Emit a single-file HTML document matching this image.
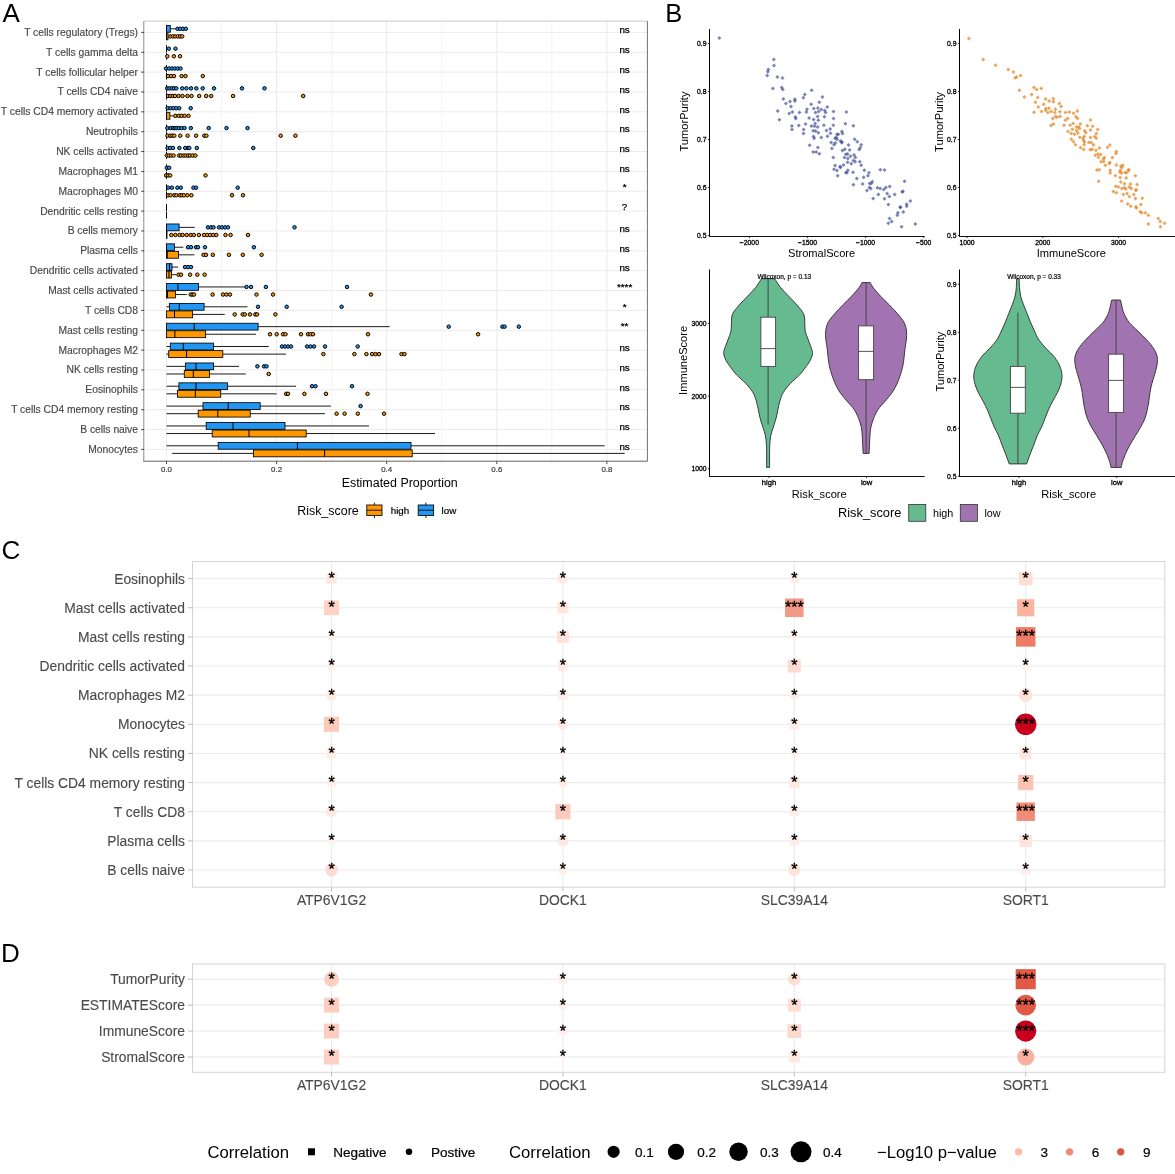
<!DOCTYPE html>
<html><head><meta charset="utf-8"><title>figure</title>
<style>
html,body{margin:0;padding:0;background:#fff;width:1175px;height:1174px;overflow:hidden;}
svg{display:block;will-change:transform;}
text{font-family:"Liberation Sans",sans-serif;}
</style></head><body>
<svg width="1175" height="1174" viewBox="0 0 1175 1174">
<rect x="0" y="0" width="1175" height="1174" fill="#fff"/>
<text x="2.40" y="22.00" font-size="26" fill="#000" text-anchor="start">A</text>
<text x="665.20" y="21.90" font-size="25.5" fill="#000" text-anchor="start">B</text>
<text x="1.60" y="558.90" font-size="26" fill="#000" text-anchor="start">C</text>
<text x="0.90" y="961.70" font-size="26" fill="#000" text-anchor="start">D</text>
<rect x="144.00" y="21.10" width="503.40" height="440.20" fill="#fff" stroke="none" stroke-width="1.0"/>
<line x1="221.55" y1="21.10" x2="221.55" y2="461.30" stroke="#F0F0F0" stroke-width="0.8"/>
<line x1="331.65" y1="21.10" x2="331.65" y2="461.30" stroke="#F0F0F0" stroke-width="0.8"/>
<line x1="441.75" y1="21.10" x2="441.75" y2="461.30" stroke="#F0F0F0" stroke-width="0.8"/>
<line x1="551.85" y1="21.10" x2="551.85" y2="461.30" stroke="#F0F0F0" stroke-width="0.8"/>
<line x1="166.50" y1="21.10" x2="166.50" y2="461.30" stroke="#EBEBEB" stroke-width="1.0"/>
<line x1="276.60" y1="21.10" x2="276.60" y2="461.30" stroke="#EBEBEB" stroke-width="1.0"/>
<line x1="386.70" y1="21.10" x2="386.70" y2="461.30" stroke="#EBEBEB" stroke-width="1.0"/>
<line x1="496.80" y1="21.10" x2="496.80" y2="461.30" stroke="#EBEBEB" stroke-width="1.0"/>
<line x1="606.90" y1="21.10" x2="606.90" y2="461.30" stroke="#EBEBEB" stroke-width="1.0"/>
<line x1="144.00" y1="32.40" x2="647.40" y2="32.40" stroke="#EBEBEB" stroke-width="1.0"/>
<line x1="144.00" y1="52.26" x2="647.40" y2="52.26" stroke="#EBEBEB" stroke-width="1.0"/>
<line x1="144.00" y1="72.11" x2="647.40" y2="72.11" stroke="#EBEBEB" stroke-width="1.0"/>
<line x1="144.00" y1="91.97" x2="647.40" y2="91.97" stroke="#EBEBEB" stroke-width="1.0"/>
<line x1="144.00" y1="111.83" x2="647.40" y2="111.83" stroke="#EBEBEB" stroke-width="1.0"/>
<line x1="144.00" y1="131.69" x2="647.40" y2="131.69" stroke="#EBEBEB" stroke-width="1.0"/>
<line x1="144.00" y1="151.54" x2="647.40" y2="151.54" stroke="#EBEBEB" stroke-width="1.0"/>
<line x1="144.00" y1="171.40" x2="647.40" y2="171.40" stroke="#EBEBEB" stroke-width="1.0"/>
<line x1="144.00" y1="191.26" x2="647.40" y2="191.26" stroke="#EBEBEB" stroke-width="1.0"/>
<line x1="144.00" y1="211.11" x2="647.40" y2="211.11" stroke="#EBEBEB" stroke-width="1.0"/>
<line x1="144.00" y1="230.97" x2="647.40" y2="230.97" stroke="#EBEBEB" stroke-width="1.0"/>
<line x1="144.00" y1="250.83" x2="647.40" y2="250.83" stroke="#EBEBEB" stroke-width="1.0"/>
<line x1="144.00" y1="270.68" x2="647.40" y2="270.68" stroke="#EBEBEB" stroke-width="1.0"/>
<line x1="144.00" y1="290.54" x2="647.40" y2="290.54" stroke="#EBEBEB" stroke-width="1.0"/>
<line x1="144.00" y1="310.40" x2="647.40" y2="310.40" stroke="#EBEBEB" stroke-width="1.0"/>
<line x1="144.00" y1="330.25" x2="647.40" y2="330.25" stroke="#EBEBEB" stroke-width="1.0"/>
<line x1="144.00" y1="350.11" x2="647.40" y2="350.11" stroke="#EBEBEB" stroke-width="1.0"/>
<line x1="144.00" y1="369.97" x2="647.40" y2="369.97" stroke="#EBEBEB" stroke-width="1.0"/>
<line x1="144.00" y1="389.83" x2="647.40" y2="389.83" stroke="#EBEBEB" stroke-width="1.0"/>
<line x1="144.00" y1="409.68" x2="647.40" y2="409.68" stroke="#EBEBEB" stroke-width="1.0"/>
<line x1="144.00" y1="429.54" x2="647.40" y2="429.54" stroke="#EBEBEB" stroke-width="1.0"/>
<line x1="144.00" y1="449.40" x2="647.40" y2="449.40" stroke="#EBEBEB" stroke-width="1.0"/>
<line x1="170.30" y1="28.80" x2="176.00" y2="28.80" stroke="#000" stroke-width="0.9"/>
<rect x="166.50" y="25.40" width="3.80" height="6.80" fill="#2196F3" stroke="#000" stroke-width="0.85"/>
<line x1="166.50" y1="25.40" x2="166.50" y2="32.20" stroke="#000" stroke-width="1.0"/>
<circle cx="177.50" cy="28.80" r="1.75" fill="#2196F3" stroke="#000" stroke-width="1.0"/>
<circle cx="180.20" cy="28.80" r="1.75" fill="#2196F3" stroke="#000" stroke-width="1.0"/>
<circle cx="183.00" cy="28.80" r="1.75" fill="#2196F3" stroke="#000" stroke-width="1.0"/>
<circle cx="185.80" cy="28.80" r="1.75" fill="#2196F3" stroke="#000" stroke-width="1.0"/>
<rect x="166.50" y="32.90" width="1.50" height="6.90" fill="#FF9800" stroke="#000" stroke-width="0.85"/>
<line x1="166.50" y1="32.90" x2="166.50" y2="39.80" stroke="#000" stroke-width="1.0"/>
<circle cx="170.30" cy="36.40" r="1.75" fill="#FF9800" stroke="#000" stroke-width="1.0"/>
<circle cx="172.80" cy="36.40" r="1.75" fill="#FF9800" stroke="#000" stroke-width="1.0"/>
<circle cx="175.30" cy="36.40" r="1.75" fill="#FF9800" stroke="#000" stroke-width="1.0"/>
<circle cx="177.80" cy="36.40" r="1.75" fill="#FF9800" stroke="#000" stroke-width="1.0"/>
<circle cx="180.20" cy="36.40" r="1.75" fill="#FF9800" stroke="#000" stroke-width="1.0"/>
<circle cx="182.20" cy="36.40" r="1.75" fill="#FF9800" stroke="#000" stroke-width="1.0"/>
<line x1="166.50" y1="45.26" x2="166.50" y2="52.06" stroke="#000" stroke-width="1.0"/>
<circle cx="168.80" cy="48.66" r="1.75" fill="#2196F3" stroke="#000" stroke-width="1.0"/>
<circle cx="175.50" cy="48.66" r="1.75" fill="#2196F3" stroke="#000" stroke-width="1.0"/>
<line x1="166.50" y1="52.76" x2="166.50" y2="59.66" stroke="#000" stroke-width="1.0"/>
<circle cx="167.30" cy="56.26" r="1.75" fill="#FF9800" stroke="#000" stroke-width="1.0"/>
<circle cx="173.90" cy="56.26" r="1.75" fill="#FF9800" stroke="#000" stroke-width="1.0"/>
<circle cx="180.00" cy="56.26" r="1.75" fill="#FF9800" stroke="#000" stroke-width="1.0"/>
<line x1="166.50" y1="65.11" x2="166.50" y2="71.91" stroke="#000" stroke-width="1.0"/>
<circle cx="166.00" cy="68.51" r="1.75" fill="#2196F3" stroke="#000" stroke-width="1.0"/>
<circle cx="168.90" cy="68.51" r="1.75" fill="#2196F3" stroke="#000" stroke-width="1.0"/>
<circle cx="171.80" cy="68.51" r="1.75" fill="#2196F3" stroke="#000" stroke-width="1.0"/>
<circle cx="174.70" cy="68.51" r="1.75" fill="#2196F3" stroke="#000" stroke-width="1.0"/>
<circle cx="177.60" cy="68.51" r="1.75" fill="#2196F3" stroke="#000" stroke-width="1.0"/>
<circle cx="180.50" cy="68.51" r="1.75" fill="#2196F3" stroke="#000" stroke-width="1.0"/>
<line x1="166.50" y1="72.61" x2="166.50" y2="79.51" stroke="#000" stroke-width="1.0"/>
<circle cx="168.00" cy="76.11" r="1.75" fill="#FF9800" stroke="#000" stroke-width="1.0"/>
<circle cx="171.00" cy="76.11" r="1.75" fill="#FF9800" stroke="#000" stroke-width="1.0"/>
<circle cx="174.00" cy="76.11" r="1.75" fill="#FF9800" stroke="#000" stroke-width="1.0"/>
<circle cx="181.60" cy="76.11" r="1.75" fill="#FF9800" stroke="#000" stroke-width="1.0"/>
<circle cx="185.50" cy="76.11" r="1.75" fill="#FF9800" stroke="#000" stroke-width="1.0"/>
<circle cx="202.80" cy="76.11" r="1.75" fill="#FF9800" stroke="#000" stroke-width="1.0"/>
<line x1="166.50" y1="84.97" x2="166.50" y2="91.77" stroke="#000" stroke-width="1.0"/>
<circle cx="167.20" cy="88.37" r="1.75" fill="#2196F3" stroke="#000" stroke-width="1.0"/>
<circle cx="169.40" cy="88.37" r="1.75" fill="#2196F3" stroke="#000" stroke-width="1.0"/>
<circle cx="171.70" cy="88.37" r="1.75" fill="#2196F3" stroke="#000" stroke-width="1.0"/>
<circle cx="174.00" cy="88.37" r="1.75" fill="#2196F3" stroke="#000" stroke-width="1.0"/>
<circle cx="176.30" cy="88.37" r="1.75" fill="#2196F3" stroke="#000" stroke-width="1.0"/>
<circle cx="182.20" cy="88.37" r="1.75" fill="#2196F3" stroke="#000" stroke-width="1.0"/>
<circle cx="186.40" cy="88.37" r="1.75" fill="#2196F3" stroke="#000" stroke-width="1.0"/>
<circle cx="191.00" cy="88.37" r="1.75" fill="#2196F3" stroke="#000" stroke-width="1.0"/>
<circle cx="196.30" cy="88.37" r="1.75" fill="#2196F3" stroke="#000" stroke-width="1.0"/>
<circle cx="202.70" cy="88.37" r="1.75" fill="#2196F3" stroke="#000" stroke-width="1.0"/>
<circle cx="214.00" cy="88.37" r="1.75" fill="#2196F3" stroke="#000" stroke-width="1.0"/>
<circle cx="242.00" cy="88.37" r="1.75" fill="#2196F3" stroke="#000" stroke-width="1.0"/>
<circle cx="264.50" cy="88.37" r="1.75" fill="#2196F3" stroke="#000" stroke-width="1.0"/>
<line x1="166.50" y1="92.47" x2="166.50" y2="99.37" stroke="#000" stroke-width="1.0"/>
<circle cx="168.00" cy="95.97" r="1.75" fill="#FF9800" stroke="#000" stroke-width="1.0"/>
<circle cx="170.20" cy="95.97" r="1.75" fill="#FF9800" stroke="#000" stroke-width="1.0"/>
<circle cx="172.80" cy="95.97" r="1.75" fill="#FF9800" stroke="#000" stroke-width="1.0"/>
<circle cx="175.00" cy="95.97" r="1.75" fill="#FF9800" stroke="#000" stroke-width="1.0"/>
<circle cx="178.60" cy="95.97" r="1.75" fill="#FF9800" stroke="#000" stroke-width="1.0"/>
<circle cx="182.50" cy="95.97" r="1.75" fill="#FF9800" stroke="#000" stroke-width="1.0"/>
<circle cx="187.40" cy="95.97" r="1.75" fill="#FF9800" stroke="#000" stroke-width="1.0"/>
<circle cx="191.50" cy="95.97" r="1.75" fill="#FF9800" stroke="#000" stroke-width="1.0"/>
<circle cx="199.20" cy="95.97" r="1.75" fill="#FF9800" stroke="#000" stroke-width="1.0"/>
<circle cx="206.20" cy="95.97" r="1.75" fill="#FF9800" stroke="#000" stroke-width="1.0"/>
<circle cx="211.20" cy="95.97" r="1.75" fill="#FF9800" stroke="#000" stroke-width="1.0"/>
<circle cx="233.10" cy="95.97" r="1.75" fill="#FF9800" stroke="#000" stroke-width="1.0"/>
<circle cx="303.20" cy="95.97" r="1.75" fill="#FF9800" stroke="#000" stroke-width="1.0"/>
<line x1="166.50" y1="104.83" x2="166.50" y2="111.63" stroke="#000" stroke-width="1.0"/>
<circle cx="167.60" cy="108.23" r="1.75" fill="#2196F3" stroke="#000" stroke-width="1.0"/>
<circle cx="170.40" cy="108.23" r="1.75" fill="#2196F3" stroke="#000" stroke-width="1.0"/>
<circle cx="173.30" cy="108.23" r="1.75" fill="#2196F3" stroke="#000" stroke-width="1.0"/>
<circle cx="176.20" cy="108.23" r="1.75" fill="#2196F3" stroke="#000" stroke-width="1.0"/>
<circle cx="179.20" cy="108.23" r="1.75" fill="#2196F3" stroke="#000" stroke-width="1.0"/>
<circle cx="190.70" cy="108.23" r="1.75" fill="#2196F3" stroke="#000" stroke-width="1.0"/>
<line x1="169.90" y1="115.83" x2="173.00" y2="115.83" stroke="#000" stroke-width="0.9"/>
<rect x="166.50" y="112.33" width="3.40" height="6.90" fill="#FF9800" stroke="#000" stroke-width="0.85"/>
<line x1="166.50" y1="112.33" x2="166.50" y2="119.23" stroke="#000" stroke-width="1.0"/>
<circle cx="175.30" cy="115.83" r="1.75" fill="#FF9800" stroke="#000" stroke-width="1.0"/>
<circle cx="178.80" cy="115.83" r="1.75" fill="#FF9800" stroke="#000" stroke-width="1.0"/>
<circle cx="181.60" cy="115.83" r="1.75" fill="#FF9800" stroke="#000" stroke-width="1.0"/>
<circle cx="184.60" cy="115.83" r="1.75" fill="#FF9800" stroke="#000" stroke-width="1.0"/>
<circle cx="188.50" cy="115.83" r="1.75" fill="#FF9800" stroke="#000" stroke-width="1.0"/>
<line x1="166.50" y1="124.69" x2="166.50" y2="131.49" stroke="#000" stroke-width="1.0"/>
<circle cx="167.40" cy="128.09" r="1.75" fill="#2196F3" stroke="#000" stroke-width="1.0"/>
<circle cx="170.60" cy="128.09" r="1.75" fill="#2196F3" stroke="#000" stroke-width="1.0"/>
<circle cx="173.00" cy="128.09" r="1.75" fill="#2196F3" stroke="#000" stroke-width="1.0"/>
<circle cx="174.70" cy="128.09" r="1.75" fill="#2196F3" stroke="#000" stroke-width="1.0"/>
<circle cx="176.40" cy="128.09" r="1.75" fill="#2196F3" stroke="#000" stroke-width="1.0"/>
<circle cx="178.70" cy="128.09" r="1.75" fill="#2196F3" stroke="#000" stroke-width="1.0"/>
<circle cx="181.50" cy="128.09" r="1.75" fill="#2196F3" stroke="#000" stroke-width="1.0"/>
<circle cx="184.50" cy="128.09" r="1.75" fill="#2196F3" stroke="#000" stroke-width="1.0"/>
<circle cx="190.80" cy="128.09" r="1.75" fill="#2196F3" stroke="#000" stroke-width="1.0"/>
<circle cx="208.70" cy="128.09" r="1.75" fill="#2196F3" stroke="#000" stroke-width="1.0"/>
<circle cx="226.50" cy="128.09" r="1.75" fill="#2196F3" stroke="#000" stroke-width="1.0"/>
<circle cx="247.50" cy="128.09" r="1.75" fill="#2196F3" stroke="#000" stroke-width="1.0"/>
<line x1="166.50" y1="132.19" x2="166.50" y2="139.09" stroke="#000" stroke-width="1.0"/>
<circle cx="167.50" cy="135.69" r="1.75" fill="#FF9800" stroke="#000" stroke-width="1.0"/>
<circle cx="170.20" cy="135.69" r="1.75" fill="#FF9800" stroke="#000" stroke-width="1.0"/>
<circle cx="172.30" cy="135.69" r="1.75" fill="#FF9800" stroke="#000" stroke-width="1.0"/>
<circle cx="174.30" cy="135.69" r="1.75" fill="#FF9800" stroke="#000" stroke-width="1.0"/>
<circle cx="180.30" cy="135.69" r="1.75" fill="#FF9800" stroke="#000" stroke-width="1.0"/>
<circle cx="187.60" cy="135.69" r="1.75" fill="#FF9800" stroke="#000" stroke-width="1.0"/>
<circle cx="196.10" cy="135.69" r="1.75" fill="#FF9800" stroke="#000" stroke-width="1.0"/>
<circle cx="204.30" cy="135.69" r="1.75" fill="#FF9800" stroke="#000" stroke-width="1.0"/>
<circle cx="206.40" cy="135.69" r="1.75" fill="#FF9800" stroke="#000" stroke-width="1.0"/>
<circle cx="280.70" cy="135.69" r="1.75" fill="#FF9800" stroke="#000" stroke-width="1.0"/>
<circle cx="295.40" cy="135.69" r="1.75" fill="#FF9800" stroke="#000" stroke-width="1.0"/>
<line x1="166.50" y1="144.54" x2="166.50" y2="151.34" stroke="#000" stroke-width="1.0"/>
<circle cx="167.50" cy="147.94" r="1.75" fill="#2196F3" stroke="#000" stroke-width="1.0"/>
<circle cx="170.20" cy="147.94" r="1.75" fill="#2196F3" stroke="#000" stroke-width="1.0"/>
<circle cx="173.00" cy="147.94" r="1.75" fill="#2196F3" stroke="#000" stroke-width="1.0"/>
<circle cx="179.40" cy="147.94" r="1.75" fill="#2196F3" stroke="#000" stroke-width="1.0"/>
<circle cx="185.20" cy="147.94" r="1.75" fill="#2196F3" stroke="#000" stroke-width="1.0"/>
<circle cx="188.00" cy="147.94" r="1.75" fill="#2196F3" stroke="#000" stroke-width="1.0"/>
<circle cx="189.30" cy="147.94" r="1.75" fill="#2196F3" stroke="#000" stroke-width="1.0"/>
<circle cx="196.80" cy="147.94" r="1.75" fill="#2196F3" stroke="#000" stroke-width="1.0"/>
<circle cx="253.30" cy="147.94" r="1.75" fill="#2196F3" stroke="#000" stroke-width="1.0"/>
<line x1="166.50" y1="152.04" x2="166.50" y2="158.94" stroke="#000" stroke-width="1.0"/>
<circle cx="166.80" cy="155.54" r="1.75" fill="#FF9800" stroke="#000" stroke-width="1.0"/>
<circle cx="168.90" cy="155.54" r="1.75" fill="#FF9800" stroke="#000" stroke-width="1.0"/>
<circle cx="171.20" cy="155.54" r="1.75" fill="#FF9800" stroke="#000" stroke-width="1.0"/>
<circle cx="173.60" cy="155.54" r="1.75" fill="#FF9800" stroke="#000" stroke-width="1.0"/>
<circle cx="179.10" cy="155.54" r="1.75" fill="#FF9800" stroke="#000" stroke-width="1.0"/>
<circle cx="181.10" cy="155.54" r="1.75" fill="#FF9800" stroke="#000" stroke-width="1.0"/>
<circle cx="183.50" cy="155.54" r="1.75" fill="#FF9800" stroke="#000" stroke-width="1.0"/>
<circle cx="185.60" cy="155.54" r="1.75" fill="#FF9800" stroke="#000" stroke-width="1.0"/>
<circle cx="188.00" cy="155.54" r="1.75" fill="#FF9800" stroke="#000" stroke-width="1.0"/>
<circle cx="190.00" cy="155.54" r="1.75" fill="#FF9800" stroke="#000" stroke-width="1.0"/>
<circle cx="192.70" cy="155.54" r="1.75" fill="#FF9800" stroke="#000" stroke-width="1.0"/>
<circle cx="195.40" cy="155.54" r="1.75" fill="#FF9800" stroke="#000" stroke-width="1.0"/>
<line x1="166.50" y1="164.40" x2="166.50" y2="171.20" stroke="#000" stroke-width="1.0"/>
<circle cx="166.80" cy="167.80" r="1.75" fill="#2196F3" stroke="#000" stroke-width="1.0"/>
<circle cx="169.20" cy="167.80" r="1.75" fill="#2196F3" stroke="#000" stroke-width="1.0"/>
<line x1="166.50" y1="171.90" x2="166.50" y2="178.80" stroke="#000" stroke-width="1.0"/>
<circle cx="166.10" cy="175.40" r="1.75" fill="#FF9800" stroke="#000" stroke-width="1.0"/>
<circle cx="168.20" cy="175.40" r="1.75" fill="#FF9800" stroke="#000" stroke-width="1.0"/>
<circle cx="170.20" cy="175.40" r="1.75" fill="#FF9800" stroke="#000" stroke-width="1.0"/>
<circle cx="205.50" cy="175.40" r="1.75" fill="#FF9800" stroke="#000" stroke-width="1.0"/>
<line x1="166.50" y1="184.26" x2="166.50" y2="191.06" stroke="#000" stroke-width="1.0"/>
<circle cx="168.20" cy="187.66" r="1.75" fill="#2196F3" stroke="#000" stroke-width="1.0"/>
<circle cx="171.90" cy="187.66" r="1.75" fill="#2196F3" stroke="#000" stroke-width="1.0"/>
<circle cx="177.40" cy="187.66" r="1.75" fill="#2196F3" stroke="#000" stroke-width="1.0"/>
<circle cx="180.80" cy="187.66" r="1.75" fill="#2196F3" stroke="#000" stroke-width="1.0"/>
<circle cx="193.40" cy="187.66" r="1.75" fill="#2196F3" stroke="#000" stroke-width="1.0"/>
<circle cx="196.10" cy="187.66" r="1.75" fill="#2196F3" stroke="#000" stroke-width="1.0"/>
<circle cx="237.70" cy="187.66" r="1.75" fill="#2196F3" stroke="#000" stroke-width="1.0"/>
<line x1="166.50" y1="191.76" x2="166.50" y2="198.66" stroke="#000" stroke-width="1.0"/>
<circle cx="168.20" cy="195.26" r="1.75" fill="#FF9800" stroke="#000" stroke-width="1.0"/>
<circle cx="170.60" cy="195.26" r="1.75" fill="#FF9800" stroke="#000" stroke-width="1.0"/>
<circle cx="174.30" cy="195.26" r="1.75" fill="#FF9800" stroke="#000" stroke-width="1.0"/>
<circle cx="176.40" cy="195.26" r="1.75" fill="#FF9800" stroke="#000" stroke-width="1.0"/>
<circle cx="179.80" cy="195.26" r="1.75" fill="#FF9800" stroke="#000" stroke-width="1.0"/>
<circle cx="181.80" cy="195.26" r="1.75" fill="#FF9800" stroke="#000" stroke-width="1.0"/>
<circle cx="183.90" cy="195.26" r="1.75" fill="#FF9800" stroke="#000" stroke-width="1.0"/>
<circle cx="187.30" cy="195.26" r="1.75" fill="#FF9800" stroke="#000" stroke-width="1.0"/>
<circle cx="191.40" cy="195.26" r="1.75" fill="#FF9800" stroke="#000" stroke-width="1.0"/>
<circle cx="232.00" cy="195.26" r="1.75" fill="#FF9800" stroke="#000" stroke-width="1.0"/>
<circle cx="243.00" cy="195.26" r="1.75" fill="#FF9800" stroke="#000" stroke-width="1.0"/>
<line x1="166.50" y1="204.11" x2="166.50" y2="210.91" stroke="#000" stroke-width="1.0"/>
<line x1="166.50" y1="211.61" x2="166.50" y2="218.51" stroke="#000" stroke-width="1.0"/>
<line x1="179.10" y1="227.37" x2="194.80" y2="227.37" stroke="#000" stroke-width="0.9"/>
<rect x="166.50" y="223.97" width="12.60" height="6.80" fill="#2196F3" stroke="#000" stroke-width="0.85"/>
<line x1="166.50" y1="223.97" x2="166.50" y2="230.77" stroke="#000" stroke-width="1.0"/>
<circle cx="208.00" cy="227.37" r="1.75" fill="#2196F3" stroke="#000" stroke-width="1.0"/>
<circle cx="211.00" cy="227.37" r="1.75" fill="#2196F3" stroke="#000" stroke-width="1.0"/>
<circle cx="213.50" cy="227.37" r="1.75" fill="#2196F3" stroke="#000" stroke-width="1.0"/>
<circle cx="219.00" cy="227.37" r="1.75" fill="#2196F3" stroke="#000" stroke-width="1.0"/>
<circle cx="222.00" cy="227.37" r="1.75" fill="#2196F3" stroke="#000" stroke-width="1.0"/>
<circle cx="225.00" cy="227.37" r="1.75" fill="#2196F3" stroke="#000" stroke-width="1.0"/>
<circle cx="228.00" cy="227.37" r="1.75" fill="#2196F3" stroke="#000" stroke-width="1.0"/>
<circle cx="294.50" cy="227.37" r="1.75" fill="#2196F3" stroke="#000" stroke-width="1.0"/>
<rect x="166.50" y="231.47" width="0.50" height="6.90" fill="#FF9800" stroke="#000" stroke-width="0.85"/>
<line x1="166.50" y1="231.47" x2="166.50" y2="238.37" stroke="#000" stroke-width="1.0"/>
<circle cx="171.30" cy="234.97" r="1.75" fill="#FF9800" stroke="#000" stroke-width="1.0"/>
<circle cx="175.40" cy="234.97" r="1.75" fill="#FF9800" stroke="#000" stroke-width="1.0"/>
<circle cx="179.50" cy="234.97" r="1.75" fill="#FF9800" stroke="#000" stroke-width="1.0"/>
<circle cx="182.60" cy="234.97" r="1.75" fill="#FF9800" stroke="#000" stroke-width="1.0"/>
<circle cx="186.70" cy="234.97" r="1.75" fill="#FF9800" stroke="#000" stroke-width="1.0"/>
<circle cx="190.70" cy="234.97" r="1.75" fill="#FF9800" stroke="#000" stroke-width="1.0"/>
<circle cx="193.80" cy="234.97" r="1.75" fill="#FF9800" stroke="#000" stroke-width="1.0"/>
<circle cx="198.90" cy="234.97" r="1.75" fill="#FF9800" stroke="#000" stroke-width="1.0"/>
<circle cx="204.00" cy="234.97" r="1.75" fill="#FF9800" stroke="#000" stroke-width="1.0"/>
<circle cx="207.10" cy="234.97" r="1.75" fill="#FF9800" stroke="#000" stroke-width="1.0"/>
<circle cx="210.10" cy="234.97" r="1.75" fill="#FF9800" stroke="#000" stroke-width="1.0"/>
<circle cx="213.20" cy="234.97" r="1.75" fill="#FF9800" stroke="#000" stroke-width="1.0"/>
<circle cx="216.30" cy="234.97" r="1.75" fill="#FF9800" stroke="#000" stroke-width="1.0"/>
<circle cx="225.50" cy="234.97" r="1.75" fill="#FF9800" stroke="#000" stroke-width="1.0"/>
<circle cx="230.60" cy="234.97" r="1.75" fill="#FF9800" stroke="#000" stroke-width="1.0"/>
<circle cx="248.00" cy="234.97" r="1.75" fill="#FF9800" stroke="#000" stroke-width="1.0"/>
<line x1="174.40" y1="247.23" x2="183.40" y2="247.23" stroke="#000" stroke-width="0.9"/>
<rect x="166.50" y="243.83" width="7.90" height="6.80" fill="#2196F3" stroke="#000" stroke-width="0.85"/>
<line x1="166.50" y1="243.83" x2="166.50" y2="250.63" stroke="#000" stroke-width="1.0"/>
<circle cx="188.00" cy="247.23" r="1.75" fill="#2196F3" stroke="#000" stroke-width="1.0"/>
<circle cx="191.00" cy="247.23" r="1.75" fill="#2196F3" stroke="#000" stroke-width="1.0"/>
<circle cx="196.00" cy="247.23" r="1.75" fill="#2196F3" stroke="#000" stroke-width="1.0"/>
<circle cx="198.00" cy="247.23" r="1.75" fill="#2196F3" stroke="#000" stroke-width="1.0"/>
<circle cx="205.00" cy="247.23" r="1.75" fill="#2196F3" stroke="#000" stroke-width="1.0"/>
<circle cx="253.90" cy="247.23" r="1.75" fill="#2196F3" stroke="#000" stroke-width="1.0"/>
<line x1="178.50" y1="254.83" x2="194.40" y2="254.83" stroke="#000" stroke-width="0.9"/>
<rect x="166.50" y="251.33" width="12.00" height="6.90" fill="#FF9800" stroke="#000" stroke-width="0.85"/>
<line x1="167.30" y1="251.33" x2="167.30" y2="258.23" stroke="#000" stroke-width="1.0"/>
<circle cx="203.50" cy="254.83" r="1.75" fill="#FF9800" stroke="#000" stroke-width="1.0"/>
<circle cx="206.00" cy="254.83" r="1.75" fill="#FF9800" stroke="#000" stroke-width="1.0"/>
<circle cx="212.80" cy="254.83" r="1.75" fill="#FF9800" stroke="#000" stroke-width="1.0"/>
<circle cx="228.90" cy="254.83" r="1.75" fill="#FF9800" stroke="#000" stroke-width="1.0"/>
<circle cx="242.80" cy="254.83" r="1.75" fill="#FF9800" stroke="#000" stroke-width="1.0"/>
<circle cx="261.60" cy="254.83" r="1.75" fill="#FF9800" stroke="#000" stroke-width="1.0"/>
<line x1="172.00" y1="267.08" x2="178.00" y2="267.08" stroke="#000" stroke-width="0.9"/>
<rect x="166.50" y="263.68" width="5.50" height="6.80" fill="#2196F3" stroke="#000" stroke-width="0.85"/>
<line x1="169.50" y1="263.68" x2="169.50" y2="270.48" stroke="#000" stroke-width="1.0"/>
<circle cx="185.00" cy="267.08" r="1.75" fill="#2196F3" stroke="#000" stroke-width="1.0"/>
<circle cx="188.00" cy="267.08" r="1.75" fill="#2196F3" stroke="#000" stroke-width="1.0"/>
<circle cx="191.00" cy="267.08" r="1.75" fill="#2196F3" stroke="#000" stroke-width="1.0"/>
<line x1="171.50" y1="274.68" x2="176.00" y2="274.68" stroke="#000" stroke-width="0.9"/>
<rect x="166.50" y="271.18" width="5.00" height="6.90" fill="#FF9800" stroke="#000" stroke-width="0.85"/>
<line x1="169.00" y1="271.18" x2="169.00" y2="278.08" stroke="#000" stroke-width="1.0"/>
<circle cx="178.50" cy="274.68" r="1.75" fill="#FF9800" stroke="#000" stroke-width="1.0"/>
<circle cx="181.00" cy="274.68" r="1.75" fill="#FF9800" stroke="#000" stroke-width="1.0"/>
<circle cx="190.10" cy="274.68" r="1.75" fill="#FF9800" stroke="#000" stroke-width="1.0"/>
<circle cx="197.30" cy="274.68" r="1.75" fill="#FF9800" stroke="#000" stroke-width="1.0"/>
<circle cx="204.60" cy="274.68" r="1.75" fill="#FF9800" stroke="#000" stroke-width="1.0"/>
<line x1="198.50" y1="286.94" x2="244.80" y2="286.94" stroke="#000" stroke-width="0.9"/>
<rect x="166.50" y="283.54" width="32.00" height="6.80" fill="#2196F3" stroke="#000" stroke-width="0.85"/>
<line x1="177.90" y1="283.54" x2="177.90" y2="290.34" stroke="#000" stroke-width="1.0"/>
<circle cx="246.50" cy="286.94" r="1.75" fill="#2196F3" stroke="#000" stroke-width="1.0"/>
<circle cx="251.00" cy="286.94" r="1.75" fill="#2196F3" stroke="#000" stroke-width="1.0"/>
<circle cx="265.90" cy="286.94" r="1.75" fill="#2196F3" stroke="#000" stroke-width="1.0"/>
<circle cx="347.00" cy="286.94" r="1.75" fill="#2196F3" stroke="#000" stroke-width="1.0"/>
<line x1="175.40" y1="294.54" x2="186.80" y2="294.54" stroke="#000" stroke-width="0.9"/>
<rect x="166.50" y="291.04" width="8.90" height="6.90" fill="#FF9800" stroke="#000" stroke-width="0.85"/>
<line x1="167.50" y1="291.04" x2="167.50" y2="297.94" stroke="#000" stroke-width="1.0"/>
<circle cx="190.70" cy="294.54" r="1.75" fill="#FF9800" stroke="#000" stroke-width="1.0"/>
<circle cx="192.50" cy="294.54" r="1.75" fill="#FF9800" stroke="#000" stroke-width="1.0"/>
<circle cx="194.00" cy="294.54" r="1.75" fill="#FF9800" stroke="#000" stroke-width="1.0"/>
<circle cx="212.60" cy="294.54" r="1.75" fill="#FF9800" stroke="#000" stroke-width="1.0"/>
<circle cx="223.00" cy="294.54" r="1.75" fill="#FF9800" stroke="#000" stroke-width="1.0"/>
<circle cx="226.50" cy="294.54" r="1.75" fill="#FF9800" stroke="#000" stroke-width="1.0"/>
<circle cx="230.00" cy="294.54" r="1.75" fill="#FF9800" stroke="#000" stroke-width="1.0"/>
<circle cx="256.50" cy="294.54" r="1.75" fill="#FF9800" stroke="#000" stroke-width="1.0"/>
<circle cx="273.00" cy="294.54" r="1.75" fill="#FF9800" stroke="#000" stroke-width="1.0"/>
<circle cx="370.90" cy="294.54" r="1.75" fill="#FF9800" stroke="#000" stroke-width="1.0"/>
<line x1="166.50" y1="306.80" x2="169.40" y2="306.80" stroke="#000" stroke-width="0.9"/>
<line x1="204.10" y1="306.80" x2="247.50" y2="306.80" stroke="#000" stroke-width="0.9"/>
<rect x="169.40" y="303.40" width="34.70" height="6.80" fill="#2196F3" stroke="#000" stroke-width="0.85"/>
<line x1="179.30" y1="303.40" x2="179.30" y2="310.20" stroke="#000" stroke-width="1.0"/>
<circle cx="258.00" cy="306.80" r="1.75" fill="#2196F3" stroke="#000" stroke-width="1.0"/>
<circle cx="286.70" cy="306.80" r="1.75" fill="#2196F3" stroke="#000" stroke-width="1.0"/>
<circle cx="341.60" cy="306.80" r="1.75" fill="#2196F3" stroke="#000" stroke-width="1.0"/>
<line x1="192.60" y1="314.40" x2="224.70" y2="314.40" stroke="#000" stroke-width="0.9"/>
<rect x="166.50" y="310.90" width="26.10" height="6.90" fill="#FF9800" stroke="#000" stroke-width="0.85"/>
<line x1="174.50" y1="310.90" x2="174.50" y2="317.80" stroke="#000" stroke-width="1.0"/>
<circle cx="234.70" cy="314.40" r="1.75" fill="#FF9800" stroke="#000" stroke-width="1.0"/>
<circle cx="242.70" cy="314.40" r="1.75" fill="#FF9800" stroke="#000" stroke-width="1.0"/>
<circle cx="244.80" cy="314.40" r="1.75" fill="#FF9800" stroke="#000" stroke-width="1.0"/>
<circle cx="250.00" cy="314.40" r="1.75" fill="#FF9800" stroke="#000" stroke-width="1.0"/>
<circle cx="255.30" cy="314.40" r="1.75" fill="#FF9800" stroke="#000" stroke-width="1.0"/>
<circle cx="257.00" cy="314.40" r="1.75" fill="#FF9800" stroke="#000" stroke-width="1.0"/>
<circle cx="275.40" cy="314.40" r="1.75" fill="#FF9800" stroke="#000" stroke-width="1.0"/>
<line x1="258.10" y1="326.65" x2="389.60" y2="326.65" stroke="#000" stroke-width="0.9"/>
<rect x="166.50" y="323.25" width="91.60" height="6.80" fill="#2196F3" stroke="#000" stroke-width="0.85"/>
<line x1="194.20" y1="323.25" x2="194.20" y2="330.06" stroke="#000" stroke-width="1.0"/>
<circle cx="448.70" cy="326.65" r="1.75" fill="#2196F3" stroke="#000" stroke-width="1.0"/>
<circle cx="502.40" cy="326.65" r="1.75" fill="#2196F3" stroke="#000" stroke-width="1.0"/>
<circle cx="504.60" cy="326.65" r="1.75" fill="#2196F3" stroke="#000" stroke-width="1.0"/>
<circle cx="518.80" cy="326.65" r="1.75" fill="#2196F3" stroke="#000" stroke-width="1.0"/>
<line x1="205.60" y1="334.25" x2="256.00" y2="334.25" stroke="#000" stroke-width="0.9"/>
<rect x="166.50" y="330.75" width="39.10" height="6.90" fill="#FF9800" stroke="#000" stroke-width="0.85"/>
<line x1="174.90" y1="330.75" x2="174.90" y2="337.65" stroke="#000" stroke-width="1.0"/>
<circle cx="270.00" cy="334.25" r="1.75" fill="#FF9800" stroke="#000" stroke-width="1.0"/>
<circle cx="276.70" cy="334.25" r="1.75" fill="#FF9800" stroke="#000" stroke-width="1.0"/>
<circle cx="283.00" cy="334.25" r="1.75" fill="#FF9800" stroke="#000" stroke-width="1.0"/>
<circle cx="285.50" cy="334.25" r="1.75" fill="#FF9800" stroke="#000" stroke-width="1.0"/>
<circle cx="301.00" cy="334.25" r="1.75" fill="#FF9800" stroke="#000" stroke-width="1.0"/>
<circle cx="308.00" cy="334.25" r="1.75" fill="#FF9800" stroke="#000" stroke-width="1.0"/>
<circle cx="310.50" cy="334.25" r="1.75" fill="#FF9800" stroke="#000" stroke-width="1.0"/>
<circle cx="313.00" cy="334.25" r="1.75" fill="#FF9800" stroke="#000" stroke-width="1.0"/>
<circle cx="368.00" cy="334.25" r="1.75" fill="#FF9800" stroke="#000" stroke-width="1.0"/>
<circle cx="478.10" cy="334.25" r="1.75" fill="#FF9800" stroke="#000" stroke-width="1.0"/>
<line x1="166.50" y1="346.51" x2="170.30" y2="346.51" stroke="#000" stroke-width="0.9"/>
<line x1="213.60" y1="346.51" x2="268.70" y2="346.51" stroke="#000" stroke-width="0.9"/>
<rect x="170.30" y="343.11" width="43.30" height="6.80" fill="#2196F3" stroke="#000" stroke-width="0.85"/>
<line x1="183.30" y1="343.11" x2="183.30" y2="349.91" stroke="#000" stroke-width="1.0"/>
<circle cx="282.00" cy="346.51" r="1.75" fill="#2196F3" stroke="#000" stroke-width="1.0"/>
<circle cx="285.00" cy="346.51" r="1.75" fill="#2196F3" stroke="#000" stroke-width="1.0"/>
<circle cx="288.00" cy="346.51" r="1.75" fill="#2196F3" stroke="#000" stroke-width="1.0"/>
<circle cx="291.00" cy="346.51" r="1.75" fill="#2196F3" stroke="#000" stroke-width="1.0"/>
<circle cx="307.00" cy="346.51" r="1.75" fill="#2196F3" stroke="#000" stroke-width="1.0"/>
<circle cx="310.50" cy="346.51" r="1.75" fill="#2196F3" stroke="#000" stroke-width="1.0"/>
<circle cx="314.00" cy="346.51" r="1.75" fill="#2196F3" stroke="#000" stroke-width="1.0"/>
<circle cx="325.00" cy="346.51" r="1.75" fill="#2196F3" stroke="#000" stroke-width="1.0"/>
<circle cx="357.70" cy="346.51" r="1.75" fill="#2196F3" stroke="#000" stroke-width="1.0"/>
<line x1="166.50" y1="354.11" x2="168.70" y2="354.11" stroke="#000" stroke-width="0.9"/>
<line x1="222.80" y1="354.11" x2="286.00" y2="354.11" stroke="#000" stroke-width="0.9"/>
<rect x="168.70" y="350.61" width="54.10" height="6.90" fill="#FF9800" stroke="#000" stroke-width="0.85"/>
<line x1="186.60" y1="350.61" x2="186.60" y2="357.51" stroke="#000" stroke-width="1.0"/>
<circle cx="323.40" cy="354.11" r="1.75" fill="#FF9800" stroke="#000" stroke-width="1.0"/>
<circle cx="354.40" cy="354.11" r="1.75" fill="#FF9800" stroke="#000" stroke-width="1.0"/>
<circle cx="366.40" cy="354.11" r="1.75" fill="#FF9800" stroke="#000" stroke-width="1.0"/>
<circle cx="372.00" cy="354.11" r="1.75" fill="#FF9800" stroke="#000" stroke-width="1.0"/>
<circle cx="375.50" cy="354.11" r="1.75" fill="#FF9800" stroke="#000" stroke-width="1.0"/>
<circle cx="379.00" cy="354.11" r="1.75" fill="#FF9800" stroke="#000" stroke-width="1.0"/>
<circle cx="401.50" cy="354.11" r="1.75" fill="#FF9800" stroke="#000" stroke-width="1.0"/>
<circle cx="404.50" cy="354.11" r="1.75" fill="#FF9800" stroke="#000" stroke-width="1.0"/>
<line x1="166.50" y1="366.37" x2="185.40" y2="366.37" stroke="#000" stroke-width="0.9"/>
<line x1="213.60" y1="366.37" x2="239.00" y2="366.37" stroke="#000" stroke-width="0.9"/>
<rect x="185.40" y="362.97" width="28.20" height="6.80" fill="#2196F3" stroke="#000" stroke-width="0.85"/>
<line x1="196.00" y1="362.97" x2="196.00" y2="369.77" stroke="#000" stroke-width="1.0"/>
<circle cx="257.40" cy="366.37" r="1.75" fill="#2196F3" stroke="#000" stroke-width="1.0"/>
<circle cx="264.00" cy="366.37" r="1.75" fill="#2196F3" stroke="#000" stroke-width="1.0"/>
<circle cx="266.50" cy="366.37" r="1.75" fill="#2196F3" stroke="#000" stroke-width="1.0"/>
<line x1="166.50" y1="373.97" x2="184.30" y2="373.97" stroke="#000" stroke-width="0.9"/>
<line x1="209.60" y1="373.97" x2="245.70" y2="373.97" stroke="#000" stroke-width="0.9"/>
<rect x="184.30" y="370.47" width="25.30" height="6.90" fill="#FF9800" stroke="#000" stroke-width="0.85"/>
<line x1="193.30" y1="370.47" x2="193.30" y2="377.37" stroke="#000" stroke-width="1.0"/>
<circle cx="268.70" cy="373.97" r="1.75" fill="#FF9800" stroke="#000" stroke-width="1.0"/>
<line x1="166.50" y1="386.23" x2="178.90" y2="386.23" stroke="#000" stroke-width="0.9"/>
<line x1="227.40" y1="386.23" x2="296.00" y2="386.23" stroke="#000" stroke-width="0.9"/>
<rect x="178.90" y="382.83" width="48.50" height="6.80" fill="#2196F3" stroke="#000" stroke-width="0.85"/>
<line x1="196.00" y1="382.83" x2="196.00" y2="389.63" stroke="#000" stroke-width="1.0"/>
<circle cx="312.00" cy="386.23" r="1.75" fill="#2196F3" stroke="#000" stroke-width="1.0"/>
<circle cx="315.50" cy="386.23" r="1.75" fill="#2196F3" stroke="#000" stroke-width="1.0"/>
<circle cx="352.00" cy="386.23" r="1.75" fill="#2196F3" stroke="#000" stroke-width="1.0"/>
<line x1="166.50" y1="393.83" x2="177.50" y2="393.83" stroke="#000" stroke-width="0.9"/>
<line x1="220.70" y1="393.83" x2="276.60" y2="393.83" stroke="#000" stroke-width="0.9"/>
<rect x="177.50" y="390.33" width="43.20" height="6.90" fill="#FF9800" stroke="#000" stroke-width="0.85"/>
<line x1="195.30" y1="390.33" x2="195.30" y2="397.23" stroke="#000" stroke-width="1.0"/>
<circle cx="286.20" cy="393.83" r="1.75" fill="#FF9800" stroke="#000" stroke-width="1.0"/>
<circle cx="288.00" cy="393.83" r="1.75" fill="#FF9800" stroke="#000" stroke-width="1.0"/>
<circle cx="304.40" cy="393.83" r="1.75" fill="#FF9800" stroke="#000" stroke-width="1.0"/>
<circle cx="326.00" cy="393.83" r="1.75" fill="#FF9800" stroke="#000" stroke-width="1.0"/>
<circle cx="367.50" cy="393.83" r="1.75" fill="#FF9800" stroke="#000" stroke-width="1.0"/>
<line x1="166.50" y1="406.08" x2="203.00" y2="406.08" stroke="#000" stroke-width="0.9"/>
<line x1="260.20" y1="406.08" x2="331.00" y2="406.08" stroke="#000" stroke-width="0.9"/>
<rect x="203.00" y="402.68" width="57.20" height="6.80" fill="#2196F3" stroke="#000" stroke-width="0.85"/>
<line x1="228.20" y1="402.68" x2="228.20" y2="409.48" stroke="#000" stroke-width="1.0"/>
<circle cx="360.60" cy="406.08" r="1.75" fill="#2196F3" stroke="#000" stroke-width="1.0"/>
<line x1="166.50" y1="413.68" x2="198.20" y2="413.68" stroke="#000" stroke-width="0.9"/>
<line x1="250.20" y1="413.68" x2="325.00" y2="413.68" stroke="#000" stroke-width="0.9"/>
<rect x="198.20" y="410.18" width="52.00" height="6.90" fill="#FF9800" stroke="#000" stroke-width="0.85"/>
<line x1="217.80" y1="410.18" x2="217.80" y2="417.08" stroke="#000" stroke-width="1.0"/>
<circle cx="336.60" cy="413.68" r="1.75" fill="#FF9800" stroke="#000" stroke-width="1.0"/>
<circle cx="344.60" cy="413.68" r="1.75" fill="#FF9800" stroke="#000" stroke-width="1.0"/>
<circle cx="357.80" cy="413.68" r="1.75" fill="#FF9800" stroke="#000" stroke-width="1.0"/>
<circle cx="384.00" cy="413.68" r="1.75" fill="#FF9800" stroke="#000" stroke-width="1.0"/>
<line x1="166.50" y1="425.94" x2="206.20" y2="425.94" stroke="#000" stroke-width="0.9"/>
<line x1="285.00" y1="425.94" x2="369.00" y2="425.94" stroke="#000" stroke-width="0.9"/>
<rect x="206.20" y="422.54" width="78.80" height="6.80" fill="#2196F3" stroke="#000" stroke-width="0.85"/>
<line x1="233.00" y1="422.54" x2="233.00" y2="429.34" stroke="#000" stroke-width="1.0"/>
<line x1="166.50" y1="433.54" x2="212.20" y2="433.54" stroke="#000" stroke-width="0.9"/>
<line x1="306.20" y1="433.54" x2="435.00" y2="433.54" stroke="#000" stroke-width="0.9"/>
<rect x="212.20" y="430.04" width="94.00" height="6.90" fill="#FF9800" stroke="#000" stroke-width="0.85"/>
<line x1="249.00" y1="430.04" x2="249.00" y2="436.94" stroke="#000" stroke-width="1.0"/>
<line x1="166.50" y1="445.80" x2="218.20" y2="445.80" stroke="#000" stroke-width="0.9"/>
<line x1="411.00" y1="445.80" x2="604.70" y2="445.80" stroke="#000" stroke-width="0.9"/>
<rect x="218.20" y="442.40" width="192.80" height="6.80" fill="#2196F3" stroke="#000" stroke-width="0.85"/>
<line x1="297.40" y1="442.40" x2="297.40" y2="449.20" stroke="#000" stroke-width="1.0"/>
<line x1="172.20" y1="453.40" x2="253.40" y2="453.40" stroke="#000" stroke-width="0.9"/>
<line x1="412.20" y1="453.40" x2="624.60" y2="453.40" stroke="#000" stroke-width="0.9"/>
<rect x="253.40" y="449.90" width="158.80" height="6.90" fill="#FF9800" stroke="#000" stroke-width="0.85"/>
<line x1="324.60" y1="449.90" x2="324.60" y2="456.80" stroke="#000" stroke-width="1.0"/>
<text x="624.60" y="33.10" font-size="9.8" fill="#000" text-anchor="middle" stroke="#000" stroke-width="0.25">ns</text>
<text x="624.60" y="52.96" font-size="9.8" fill="#000" text-anchor="middle" stroke="#000" stroke-width="0.25">ns</text>
<text x="624.60" y="72.81" font-size="9.8" fill="#000" text-anchor="middle" stroke="#000" stroke-width="0.25">ns</text>
<text x="624.60" y="92.67" font-size="9.8" fill="#000" text-anchor="middle" stroke="#000" stroke-width="0.25">ns</text>
<text x="624.60" y="112.53" font-size="9.8" fill="#000" text-anchor="middle" stroke="#000" stroke-width="0.25">ns</text>
<text x="624.60" y="132.38" font-size="9.8" fill="#000" text-anchor="middle" stroke="#000" stroke-width="0.25">ns</text>
<text x="624.60" y="152.24" font-size="9.8" fill="#000" text-anchor="middle" stroke="#000" stroke-width="0.25">ns</text>
<text x="624.60" y="172.10" font-size="9.8" fill="#000" text-anchor="middle" stroke="#000" stroke-width="0.25">ns</text>
<text x="624.60" y="190.36" font-size="9.8" fill="#000" text-anchor="middle" stroke="#000" stroke-width="0.25">*</text>
<text x="624.60" y="210.31" font-size="9.8" fill="#000" text-anchor="middle" stroke="#000" stroke-width="0.25">?</text>
<text x="624.60" y="231.67" font-size="9.8" fill="#000" text-anchor="middle" stroke="#000" stroke-width="0.25">ns</text>
<text x="624.60" y="251.53" font-size="9.8" fill="#000" text-anchor="middle" stroke="#000" stroke-width="0.25">ns</text>
<text x="624.60" y="271.38" font-size="9.8" fill="#000" text-anchor="middle" stroke="#000" stroke-width="0.25">ns</text>
<text x="624.60" y="289.64" font-size="9.8" fill="#000" text-anchor="middle" stroke="#000" stroke-width="0.25">****</text>
<text x="624.60" y="309.50" font-size="9.8" fill="#000" text-anchor="middle" stroke="#000" stroke-width="0.25">*</text>
<text x="624.60" y="329.36" font-size="9.8" fill="#000" text-anchor="middle" stroke="#000" stroke-width="0.25">**</text>
<text x="624.60" y="350.81" font-size="9.8" fill="#000" text-anchor="middle" stroke="#000" stroke-width="0.25">ns</text>
<text x="624.60" y="370.67" font-size="9.8" fill="#000" text-anchor="middle" stroke="#000" stroke-width="0.25">ns</text>
<text x="624.60" y="390.53" font-size="9.8" fill="#000" text-anchor="middle" stroke="#000" stroke-width="0.25">ns</text>
<text x="624.60" y="410.38" font-size="9.8" fill="#000" text-anchor="middle" stroke="#000" stroke-width="0.25">ns</text>
<text x="624.60" y="430.24" font-size="9.8" fill="#000" text-anchor="middle" stroke="#000" stroke-width="0.25">ns</text>
<text x="624.60" y="450.10" font-size="9.8" fill="#000" text-anchor="middle" stroke="#000" stroke-width="0.25">ns</text>
<line x1="144.00" y1="21.10" x2="647.40" y2="21.10" stroke="#C8C8C8" stroke-width="1.0"/>
<line x1="143.80" y1="21.10" x2="143.80" y2="461.30" stroke="#8A8A8A" stroke-width="1.0"/>
<line x1="647.40" y1="21.10" x2="647.40" y2="461.30" stroke="#707070" stroke-width="1.0"/>
<line x1="143.30" y1="461.20" x2="647.40" y2="461.20" stroke="#606060" stroke-width="1.0"/>
<line x1="141.20" y1="32.40" x2="144.00" y2="32.40" stroke="#333" stroke-width="0.9"/>
<text x="138.00" y="35.90" font-size="10.3" fill="#474747" text-anchor="end" stroke="#474747" stroke-width="0.15">T cells regulatory (Tregs)</text>
<line x1="141.20" y1="52.26" x2="144.00" y2="52.26" stroke="#333" stroke-width="0.9"/>
<text x="138.00" y="55.76" font-size="10.3" fill="#474747" text-anchor="end" stroke="#474747" stroke-width="0.15">T cells gamma delta</text>
<line x1="141.20" y1="72.11" x2="144.00" y2="72.11" stroke="#333" stroke-width="0.9"/>
<text x="138.00" y="75.61" font-size="10.3" fill="#474747" text-anchor="end" stroke="#474747" stroke-width="0.15">T cells follicular helper</text>
<line x1="141.20" y1="91.97" x2="144.00" y2="91.97" stroke="#333" stroke-width="0.9"/>
<text x="138.00" y="95.47" font-size="10.3" fill="#474747" text-anchor="end" stroke="#474747" stroke-width="0.15">T cells CD4 naive</text>
<line x1="141.20" y1="111.83" x2="144.00" y2="111.83" stroke="#333" stroke-width="0.9"/>
<text x="138.00" y="115.33" font-size="10.3" fill="#474747" text-anchor="end" stroke="#474747" stroke-width="0.15">T cells CD4 memory activated</text>
<line x1="141.20" y1="131.69" x2="144.00" y2="131.69" stroke="#333" stroke-width="0.9"/>
<text x="138.00" y="135.19" font-size="10.3" fill="#474747" text-anchor="end" stroke="#474747" stroke-width="0.15">Neutrophils</text>
<line x1="141.20" y1="151.54" x2="144.00" y2="151.54" stroke="#333" stroke-width="0.9"/>
<text x="138.00" y="155.04" font-size="10.3" fill="#474747" text-anchor="end" stroke="#474747" stroke-width="0.15">NK cells activated</text>
<line x1="141.20" y1="171.40" x2="144.00" y2="171.40" stroke="#333" stroke-width="0.9"/>
<text x="138.00" y="174.90" font-size="10.3" fill="#474747" text-anchor="end" stroke="#474747" stroke-width="0.15">Macrophages M1</text>
<line x1="141.20" y1="191.26" x2="144.00" y2="191.26" stroke="#333" stroke-width="0.9"/>
<text x="138.00" y="194.76" font-size="10.3" fill="#474747" text-anchor="end" stroke="#474747" stroke-width="0.15">Macrophages M0</text>
<line x1="141.20" y1="211.11" x2="144.00" y2="211.11" stroke="#333" stroke-width="0.9"/>
<text x="138.00" y="214.61" font-size="10.3" fill="#474747" text-anchor="end" stroke="#474747" stroke-width="0.15">Dendritic cells resting</text>
<line x1="141.20" y1="230.97" x2="144.00" y2="230.97" stroke="#333" stroke-width="0.9"/>
<text x="138.00" y="234.47" font-size="10.3" fill="#474747" text-anchor="end" stroke="#474747" stroke-width="0.15">B cells memory</text>
<line x1="141.20" y1="250.83" x2="144.00" y2="250.83" stroke="#333" stroke-width="0.9"/>
<text x="138.00" y="254.33" font-size="10.3" fill="#474747" text-anchor="end" stroke="#474747" stroke-width="0.15">Plasma cells</text>
<line x1="141.20" y1="270.68" x2="144.00" y2="270.68" stroke="#333" stroke-width="0.9"/>
<text x="138.00" y="274.18" font-size="10.3" fill="#474747" text-anchor="end" stroke="#474747" stroke-width="0.15">Dendritic cells activated</text>
<line x1="141.20" y1="290.54" x2="144.00" y2="290.54" stroke="#333" stroke-width="0.9"/>
<text x="138.00" y="294.04" font-size="10.3" fill="#474747" text-anchor="end" stroke="#474747" stroke-width="0.15">Mast cells activated</text>
<line x1="141.20" y1="310.40" x2="144.00" y2="310.40" stroke="#333" stroke-width="0.9"/>
<text x="138.00" y="313.90" font-size="10.3" fill="#474747" text-anchor="end" stroke="#474747" stroke-width="0.15">T cells CD8</text>
<line x1="141.20" y1="330.25" x2="144.00" y2="330.25" stroke="#333" stroke-width="0.9"/>
<text x="138.00" y="333.75" font-size="10.3" fill="#474747" text-anchor="end" stroke="#474747" stroke-width="0.15">Mast cells resting</text>
<line x1="141.20" y1="350.11" x2="144.00" y2="350.11" stroke="#333" stroke-width="0.9"/>
<text x="138.00" y="353.61" font-size="10.3" fill="#474747" text-anchor="end" stroke="#474747" stroke-width="0.15">Macrophages M2</text>
<line x1="141.20" y1="369.97" x2="144.00" y2="369.97" stroke="#333" stroke-width="0.9"/>
<text x="138.00" y="373.47" font-size="10.3" fill="#474747" text-anchor="end" stroke="#474747" stroke-width="0.15">NK cells resting</text>
<line x1="141.20" y1="389.83" x2="144.00" y2="389.83" stroke="#333" stroke-width="0.9"/>
<text x="138.00" y="393.33" font-size="10.3" fill="#474747" text-anchor="end" stroke="#474747" stroke-width="0.15">Eosinophils</text>
<line x1="141.20" y1="409.68" x2="144.00" y2="409.68" stroke="#333" stroke-width="0.9"/>
<text x="138.00" y="413.18" font-size="10.3" fill="#474747" text-anchor="end" stroke="#474747" stroke-width="0.15">T cells CD4 memory resting</text>
<line x1="141.20" y1="429.54" x2="144.00" y2="429.54" stroke="#333" stroke-width="0.9"/>
<text x="138.00" y="433.04" font-size="10.3" fill="#474747" text-anchor="end" stroke="#474747" stroke-width="0.15">B cells naive</text>
<line x1="141.20" y1="449.40" x2="144.00" y2="449.40" stroke="#333" stroke-width="0.9"/>
<text x="138.00" y="452.90" font-size="10.3" fill="#474747" text-anchor="end" stroke="#474747" stroke-width="0.15">Monocytes</text>
<line x1="166.50" y1="461.30" x2="166.50" y2="464.10" stroke="#333" stroke-width="0.9"/>
<text x="166.50" y="472.00" font-size="7.9" fill="#3A3A3A" text-anchor="middle" stroke="#3A3A3A" stroke-width="0.2">0.0</text>
<line x1="276.60" y1="461.30" x2="276.60" y2="464.10" stroke="#333" stroke-width="0.9"/>
<text x="276.60" y="472.00" font-size="7.9" fill="#3A3A3A" text-anchor="middle" stroke="#3A3A3A" stroke-width="0.2">0.2</text>
<line x1="386.70" y1="461.30" x2="386.70" y2="464.10" stroke="#333" stroke-width="0.9"/>
<text x="386.70" y="472.00" font-size="7.9" fill="#3A3A3A" text-anchor="middle" stroke="#3A3A3A" stroke-width="0.2">0.4</text>
<line x1="496.80" y1="461.30" x2="496.80" y2="464.10" stroke="#333" stroke-width="0.9"/>
<text x="496.80" y="472.00" font-size="7.9" fill="#3A3A3A" text-anchor="middle" stroke="#3A3A3A" stroke-width="0.2">0.6</text>
<line x1="606.90" y1="461.30" x2="606.90" y2="464.10" stroke="#333" stroke-width="0.9"/>
<text x="606.90" y="472.00" font-size="7.9" fill="#3A3A3A" text-anchor="middle" stroke="#3A3A3A" stroke-width="0.2">0.8</text>
<text x="399.70" y="486.60" font-size="12.45" fill="#000" text-anchor="middle">Estimated Proportion</text>
<text x="297.20" y="514.60" font-size="12.45" fill="#000" text-anchor="start">Risk_score</text>
<line x1="374.40" y1="502.60" x2="374.40" y2="518.00" stroke="#000" stroke-width="0.9"/>
<rect x="366.80" y="505.00" width="15.20" height="10.40" fill="#FF9800" stroke="#000" stroke-width="0.85"/>
<line x1="366.80" y1="510.20" x2="382.00" y2="510.20" stroke="#000" stroke-width="0.9"/>
<text x="390.70" y="513.90" font-size="9.8" fill="#000" text-anchor="start" stroke="#000" stroke-width="0.2">high</text>
<line x1="425.90" y1="502.60" x2="425.90" y2="518.00" stroke="#000" stroke-width="0.9"/>
<rect x="418.20" y="505.00" width="15.40" height="10.40" fill="#2196F3" stroke="#000" stroke-width="0.85"/>
<line x1="418.20" y1="510.20" x2="433.60" y2="510.20" stroke="#000" stroke-width="0.9"/>
<text x="441.50" y="513.90" font-size="9.8" fill="#000" text-anchor="start" stroke="#000" stroke-width="0.2">low</text>
<line x1="709.50" y1="29.00" x2="709.50" y2="237.00" stroke="#000" stroke-width="1.0"/>
<line x1="709.00" y1="236.50" x2="924.60" y2="236.50" stroke="#111" stroke-width="1.0"/>
<line x1="707.90" y1="235.50" x2="709.50" y2="235.50" stroke="#000" stroke-width="0.8"/>
<text x="706.50" y="237.90" font-size="6.8" fill="#000" text-anchor="end" stroke="#000" stroke-width="0.3">0.5</text>
<line x1="707.90" y1="187.50" x2="709.50" y2="187.50" stroke="#000" stroke-width="0.8"/>
<text x="706.50" y="189.90" font-size="6.8" fill="#000" text-anchor="end" stroke="#000" stroke-width="0.3">0.6</text>
<line x1="707.90" y1="139.50" x2="709.50" y2="139.50" stroke="#000" stroke-width="0.8"/>
<text x="706.50" y="141.90" font-size="6.8" fill="#000" text-anchor="end" stroke="#000" stroke-width="0.3">0.7</text>
<line x1="707.90" y1="91.50" x2="709.50" y2="91.50" stroke="#000" stroke-width="0.8"/>
<text x="706.50" y="93.90" font-size="6.8" fill="#000" text-anchor="end" stroke="#000" stroke-width="0.3">0.8</text>
<line x1="707.90" y1="43.50" x2="709.50" y2="43.50" stroke="#000" stroke-width="0.8"/>
<text x="706.50" y="45.90" font-size="6.8" fill="#000" text-anchor="end" stroke="#000" stroke-width="0.3">0.9</text>
<line x1="749.40" y1="236.50" x2="749.40" y2="238.10" stroke="#000" stroke-width="0.8"/>
<text x="749.40" y="245.00" font-size="6.8" fill="#000" text-anchor="middle" stroke="#000" stroke-width="0.3">−2000</text>
<line x1="807.50" y1="236.50" x2="807.50" y2="238.10" stroke="#000" stroke-width="0.8"/>
<text x="807.50" y="245.00" font-size="6.8" fill="#000" text-anchor="middle" stroke="#000" stroke-width="0.3">−1500</text>
<line x1="865.60" y1="236.50" x2="865.60" y2="238.10" stroke="#000" stroke-width="0.8"/>
<text x="865.60" y="245.00" font-size="6.8" fill="#000" text-anchor="middle" stroke="#000" stroke-width="0.3">−1000</text>
<line x1="923.70" y1="236.50" x2="923.70" y2="238.10" stroke="#000" stroke-width="0.8"/>
<text x="923.70" y="245.00" font-size="6.8" fill="#000" text-anchor="middle" stroke="#000" stroke-width="0.3">−500</text>
<path d="M719.30,36.10L721.30,38.10L719.30,40.10L717.30,38.10Z" fill="#3B4992" fill-opacity="0.68"/>
<path d="M773.80,57.50L775.80,59.50L773.80,61.50L771.80,59.50Z" fill="#3B4992" fill-opacity="0.68"/>
<path d="M774.00,63.50L776.00,65.50L774.00,67.50L772.00,65.50Z" fill="#3B4992" fill-opacity="0.68"/>
<path d="M768.30,67.60L770.30,69.60L768.30,71.60L766.30,69.60Z" fill="#3B4992" fill-opacity="0.68"/>
<path d="M767.80,69.80L769.80,71.80L767.80,73.80L765.80,71.80Z" fill="#3B4992" fill-opacity="0.68"/>
<path d="M767.20,73.60L769.20,75.60L767.20,77.60L765.20,75.60Z" fill="#3B4992" fill-opacity="0.68"/>
<path d="M777.40,74.90L779.40,76.90L777.40,78.90L775.40,76.90Z" fill="#3B4992" fill-opacity="0.68"/>
<path d="M782.50,75.90L784.50,77.90L782.50,79.90L780.50,77.90Z" fill="#3B4992" fill-opacity="0.68"/>
<path d="M772.90,86.50L774.90,88.50L772.90,90.50L770.90,88.50Z" fill="#3B4992" fill-opacity="0.68"/>
<path d="M781.70,85.50L783.70,87.50L781.70,89.50L779.70,87.50Z" fill="#3B4992" fill-opacity="0.68"/>
<path d="M782.80,87.50L784.80,89.50L782.80,91.50L780.80,89.50Z" fill="#3B4992" fill-opacity="0.68"/>
<path d="M811.60,88.30L813.60,90.30L811.60,92.30L809.60,90.30Z" fill="#3B4992" fill-opacity="0.68"/>
<path d="M804.80,92.60L806.80,94.60L804.80,96.60L802.80,94.60Z" fill="#3B4992" fill-opacity="0.68"/>
<path d="M803.30,95.70L805.30,97.70L803.30,99.70L801.30,97.70Z" fill="#3B4992" fill-opacity="0.68"/>
<path d="M822.40,95.00L824.40,97.00L822.40,99.00L820.40,97.00Z" fill="#3B4992" fill-opacity="0.68"/>
<path d="M783.40,97.10L785.40,99.10L783.40,101.10L781.40,99.10Z" fill="#3B4992" fill-opacity="0.68"/>
<path d="M794.90,97.20L796.90,99.20L794.90,101.20L792.90,99.20Z" fill="#3B4992" fill-opacity="0.68"/>
<path d="M794.90,99.10L796.90,101.10L794.90,103.10L792.90,101.10Z" fill="#3B4992" fill-opacity="0.68"/>
<path d="M790.00,99.40L792.00,101.40L790.00,103.40L788.00,101.40Z" fill="#3B4992" fill-opacity="0.68"/>
<path d="M785.90,101.50L787.90,103.50L785.90,105.50L783.90,103.50Z" fill="#3B4992" fill-opacity="0.68"/>
<path d="M819.30,100.30L821.30,102.30L819.30,104.30L817.30,102.30Z" fill="#3B4992" fill-opacity="0.68"/>
<path d="M811.10,102.20L813.10,104.20L811.10,106.20L809.10,104.20Z" fill="#3B4992" fill-opacity="0.68"/>
<path d="M791.00,104.60L793.00,106.60L791.00,108.60L789.00,106.60Z" fill="#3B4992" fill-opacity="0.68"/>
<path d="M827.30,104.90L829.30,106.90L827.30,108.90L825.30,106.90Z" fill="#3B4992" fill-opacity="0.68"/>
<path d="M813.80,106.50L815.80,108.50L813.80,110.50L811.80,108.50Z" fill="#3B4992" fill-opacity="0.68"/>
<path d="M817.80,105.90L819.80,107.90L817.80,109.90L815.80,107.90Z" fill="#3B4992" fill-opacity="0.68"/>
<path d="M821.20,107.40L823.20,109.40L821.20,111.40L819.20,109.40Z" fill="#3B4992" fill-opacity="0.68"/>
<path d="M807.00,107.30L809.00,109.30L807.00,111.30L805.00,109.30Z" fill="#3B4992" fill-opacity="0.68"/>
<path d="M806.30,109.90L808.30,111.90L806.30,113.90L804.30,111.90Z" fill="#3B4992" fill-opacity="0.68"/>
<path d="M777.70,109.00L779.70,111.00L777.70,113.00L775.70,111.00Z" fill="#3B4992" fill-opacity="0.68"/>
<path d="M792.40,110.00L794.40,112.00L792.40,114.00L790.40,112.00Z" fill="#3B4992" fill-opacity="0.68"/>
<path d="M789.20,111.40L791.20,113.40L789.20,115.40L787.20,113.40Z" fill="#3B4992" fill-opacity="0.68"/>
<path d="M799.50,110.60L801.50,112.60L799.50,114.60L797.50,112.60Z" fill="#3B4992" fill-opacity="0.68"/>
<path d="M815.50,110.60L817.50,112.60L815.50,114.60L813.50,112.60Z" fill="#3B4992" fill-opacity="0.68"/>
<path d="M818.60,109.50L820.60,111.50L818.60,113.50L816.60,111.50Z" fill="#3B4992" fill-opacity="0.68"/>
<path d="M824.70,108.50L826.70,110.50L824.70,112.50L822.70,110.50Z" fill="#3B4992" fill-opacity="0.68"/>
<path d="M825.60,110.40L827.60,112.40L825.60,114.40L823.60,112.40Z" fill="#3B4992" fill-opacity="0.68"/>
<path d="M833.50,109.50L835.50,111.50L833.50,113.50L831.50,111.50Z" fill="#3B4992" fill-opacity="0.68"/>
<path d="M817.60,114.40L819.60,116.40L817.60,118.40L815.60,116.40Z" fill="#3B4992" fill-opacity="0.68"/>
<path d="M824.40,114.80L826.40,116.80L824.40,118.80L822.40,116.80Z" fill="#3B4992" fill-opacity="0.68"/>
<path d="M795.30,115.10L797.30,117.10L795.30,119.10L793.30,117.10Z" fill="#3B4992" fill-opacity="0.68"/>
<path d="M795.80,116.50L797.80,118.50L795.80,120.50L793.80,118.50Z" fill="#3B4992" fill-opacity="0.68"/>
<path d="M809.10,116.10L811.10,118.10L809.10,120.10L807.10,118.10Z" fill="#3B4992" fill-opacity="0.68"/>
<path d="M813.60,117.40L815.60,119.40L813.60,121.40L811.60,119.40Z" fill="#3B4992" fill-opacity="0.68"/>
<path d="M818.30,118.30L820.30,120.30L818.30,122.30L816.30,120.30Z" fill="#3B4992" fill-opacity="0.68"/>
<path d="M833.50,116.50L835.50,118.50L833.50,120.50L831.50,118.50Z" fill="#3B4992" fill-opacity="0.68"/>
<path d="M779.40,117.80L781.40,119.80L779.40,121.80L777.40,119.80Z" fill="#3B4992" fill-opacity="0.68"/>
<path d="M815.20,121.50L817.20,123.50L815.20,125.50L813.20,123.50Z" fill="#3B4992" fill-opacity="0.68"/>
<path d="M805.50,122.10L807.50,124.10L805.50,126.10L803.50,124.10Z" fill="#3B4992" fill-opacity="0.68"/>
<path d="M798.80,123.60L800.80,125.60L798.80,127.60L796.80,125.60Z" fill="#3B4992" fill-opacity="0.68"/>
<path d="M791.90,124.00L793.90,126.00L791.90,128.00L789.90,126.00Z" fill="#3B4992" fill-opacity="0.68"/>
<path d="M823.90,123.30L825.90,125.30L823.90,127.30L821.90,125.30Z" fill="#3B4992" fill-opacity="0.68"/>
<path d="M833.30,123.30L835.30,125.30L833.30,127.30L831.30,125.30Z" fill="#3B4992" fill-opacity="0.68"/>
<path d="M811.40,124.00L813.40,126.00L811.40,128.00L809.40,126.00Z" fill="#3B4992" fill-opacity="0.68"/>
<path d="M814.50,124.30L816.50,126.30L814.50,128.30L812.50,126.30Z" fill="#3B4992" fill-opacity="0.68"/>
<path d="M817.60,125.00L819.60,127.00L817.60,129.00L815.60,127.00Z" fill="#3B4992" fill-opacity="0.68"/>
<path d="M792.00,127.40L794.00,129.40L792.00,131.40L790.00,129.40Z" fill="#3B4992" fill-opacity="0.68"/>
<path d="M803.60,127.40L805.60,129.40L803.60,131.40L801.60,129.40Z" fill="#3B4992" fill-opacity="0.68"/>
<path d="M830.20,127.00L832.20,129.00L830.20,131.00L828.20,129.00Z" fill="#3B4992" fill-opacity="0.68"/>
<path d="M846.40,110.00L848.40,112.00L846.40,114.00L844.40,112.00Z" fill="#3B4992" fill-opacity="0.68"/>
<path d="M845.40,121.80L847.40,123.80L845.40,125.80L843.40,123.80Z" fill="#3B4992" fill-opacity="0.68"/>
<path d="M841.90,129.50L843.90,131.50L841.90,133.50L839.90,131.50Z" fill="#3B4992" fill-opacity="0.68"/>
<path d="M842.50,131.50L844.50,133.50L842.50,135.50L840.50,133.50Z" fill="#3B4992" fill-opacity="0.68"/>
<path d="M838.40,132.20L840.40,134.20L838.40,136.20L836.40,134.20Z" fill="#3B4992" fill-opacity="0.68"/>
<path d="M837.00,132.50L839.00,134.50L837.00,136.50L835.00,134.50Z" fill="#3B4992" fill-opacity="0.68"/>
<path d="M853.40,123.70L855.40,125.70L853.40,127.70L851.40,125.70Z" fill="#3B4992" fill-opacity="0.68"/>
<path d="M826.50,128.50L828.50,130.50L826.50,132.50L824.50,130.50Z" fill="#3B4992" fill-opacity="0.68"/>
<path d="M803.50,131.50L805.50,133.50L803.50,135.50L801.50,133.50Z" fill="#3B4992" fill-opacity="0.68"/>
<path d="M813.20,128.80L815.20,130.80L813.20,132.80L811.20,130.80Z" fill="#3B4992" fill-opacity="0.68"/>
<path d="M815.60,129.10L817.60,131.10L815.60,133.10L813.60,131.10Z" fill="#3B4992" fill-opacity="0.68"/>
<path d="M818.30,130.80L820.30,132.80L818.30,134.80L816.30,132.80Z" fill="#3B4992" fill-opacity="0.68"/>
<path d="M830.50,131.20L832.50,133.20L830.50,135.20L828.50,133.20Z" fill="#3B4992" fill-opacity="0.68"/>
<path d="M813.50,134.60L815.50,136.60L813.50,138.60L811.50,136.60Z" fill="#3B4992" fill-opacity="0.68"/>
<path d="M814.20,136.30L816.20,138.30L814.20,140.30L812.20,138.30Z" fill="#3B4992" fill-opacity="0.68"/>
<path d="M821.30,135.40L823.30,137.40L821.30,139.40L819.30,137.40Z" fill="#3B4992" fill-opacity="0.68"/>
<path d="M827.50,134.20L829.50,136.20L827.50,138.20L825.50,136.20Z" fill="#3B4992" fill-opacity="0.68"/>
<path d="M835.00,136.30L837.00,138.30L835.00,140.30L833.00,138.30Z" fill="#3B4992" fill-opacity="0.68"/>
<path d="M836.30,135.60L838.30,137.60L836.30,139.60L834.30,137.60Z" fill="#3B4992" fill-opacity="0.68"/>
<path d="M837.00,137.30L839.00,139.30L837.00,141.30L835.00,139.30Z" fill="#3B4992" fill-opacity="0.68"/>
<path d="M831.20,140.40L833.20,142.40L831.20,144.40L829.20,142.40Z" fill="#3B4992" fill-opacity="0.68"/>
<path d="M835.30,141.10L837.30,143.10L835.30,145.10L833.30,143.10Z" fill="#3B4992" fill-opacity="0.68"/>
<path d="M834.00,142.80L836.00,144.80L834.00,146.80L832.00,144.80Z" fill="#3B4992" fill-opacity="0.68"/>
<path d="M840.40,139.00L842.40,141.00L840.40,143.00L838.40,141.00Z" fill="#3B4992" fill-opacity="0.68"/>
<path d="M841.80,139.70L843.80,141.70L841.80,143.70L839.80,141.70Z" fill="#3B4992" fill-opacity="0.68"/>
<path d="M841.80,140.70L843.80,142.70L841.80,144.70L839.80,142.70Z" fill="#3B4992" fill-opacity="0.68"/>
<path d="M854.60,137.30L856.60,139.30L854.60,141.30L852.60,139.30Z" fill="#3B4992" fill-opacity="0.68"/>
<path d="M857.30,139.70L859.30,141.70L857.30,143.70L855.30,141.70Z" fill="#3B4992" fill-opacity="0.68"/>
<path d="M861.20,142.80L863.20,144.80L861.20,146.80L859.20,144.80Z" fill="#3B4992" fill-opacity="0.68"/>
<path d="M860.20,145.80L862.20,147.80L860.20,149.80L858.20,147.80Z" fill="#3B4992" fill-opacity="0.68"/>
<path d="M859.20,147.40L861.20,149.40L859.20,151.40L857.20,149.40Z" fill="#3B4992" fill-opacity="0.68"/>
<path d="M848.50,142.90L850.50,144.90L848.50,146.90L846.50,144.90Z" fill="#3B4992" fill-opacity="0.68"/>
<path d="M809.60,143.30L811.60,145.30L809.60,147.30L807.60,145.30Z" fill="#3B4992" fill-opacity="0.68"/>
<path d="M817.90,145.40L819.90,147.40L817.90,149.40L815.90,147.40Z" fill="#3B4992" fill-opacity="0.68"/>
<path d="M831.90,146.50L833.90,148.50L831.90,150.50L829.90,148.50Z" fill="#3B4992" fill-opacity="0.68"/>
<path d="M842.50,148.60L844.50,150.60L842.50,152.60L840.50,150.60Z" fill="#3B4992" fill-opacity="0.68"/>
<path d="M844.90,147.20L846.90,149.20L844.90,151.20L842.90,149.20Z" fill="#3B4992" fill-opacity="0.68"/>
<path d="M849.60,148.10L851.60,150.10L849.60,152.10L847.60,150.10Z" fill="#3B4992" fill-opacity="0.68"/>
<path d="M813.20,149.90L815.20,151.90L813.20,153.90L811.20,151.90Z" fill="#3B4992" fill-opacity="0.68"/>
<path d="M816.20,150.10L818.20,152.10L816.20,154.10L814.20,152.10Z" fill="#3B4992" fill-opacity="0.68"/>
<path d="M819.40,151.80L821.40,153.80L819.40,155.80L817.40,153.80Z" fill="#3B4992" fill-opacity="0.68"/>
<path d="M845.90,152.30L847.90,154.30L845.90,156.30L843.90,154.30Z" fill="#3B4992" fill-opacity="0.68"/>
<path d="M847.60,152.00L849.60,154.00L847.60,156.00L845.60,154.00Z" fill="#3B4992" fill-opacity="0.68"/>
<path d="M844.50,155.40L846.50,157.40L844.50,159.40L842.50,157.40Z" fill="#3B4992" fill-opacity="0.68"/>
<path d="M850.50,154.20L852.50,156.20L850.50,158.20L848.50,156.20Z" fill="#3B4992" fill-opacity="0.68"/>
<path d="M847.90,156.40L849.90,158.40L847.90,160.40L845.90,158.40Z" fill="#3B4992" fill-opacity="0.68"/>
<path d="M854.10,153.00L856.10,155.00L854.10,157.00L852.10,155.00Z" fill="#3B4992" fill-opacity="0.68"/>
<path d="M855.40,155.60L857.40,157.60L855.40,159.60L853.40,157.60Z" fill="#3B4992" fill-opacity="0.68"/>
<path d="M833.30,155.40L835.30,157.40L833.30,159.40L831.30,157.40Z" fill="#3B4992" fill-opacity="0.68"/>
<path d="M853.40,158.40L855.40,160.40L853.40,162.40L851.40,160.40Z" fill="#3B4992" fill-opacity="0.68"/>
<path d="M855.10,159.70L857.10,161.70L855.10,163.70L853.10,161.70Z" fill="#3B4992" fill-opacity="0.68"/>
<path d="M859.80,159.80L861.80,161.80L859.80,163.80L857.80,161.80Z" fill="#3B4992" fill-opacity="0.68"/>
<path d="M847.60,160.30L849.60,162.30L847.60,164.30L845.60,162.30Z" fill="#3B4992" fill-opacity="0.68"/>
<path d="M851.30,161.70L853.30,163.70L851.30,165.70L849.30,163.70Z" fill="#3B4992" fill-opacity="0.68"/>
<path d="M861.20,163.30L863.20,165.30L861.20,167.30L859.20,165.30Z" fill="#3B4992" fill-opacity="0.68"/>
<path d="M835.10,163.50L837.10,165.50L835.10,167.50L833.10,165.50Z" fill="#3B4992" fill-opacity="0.68"/>
<path d="M840.10,164.60L842.10,166.60L840.10,168.60L838.10,166.60Z" fill="#3B4992" fill-opacity="0.68"/>
<path d="M840.40,165.60L842.40,167.60L840.40,169.60L838.40,167.60Z" fill="#3B4992" fill-opacity="0.68"/>
<path d="M843.50,162.90L845.50,164.90L843.50,166.90L841.50,164.90Z" fill="#3B4992" fill-opacity="0.68"/>
<path d="M834.00,167.30L836.00,169.30L834.00,171.30L832.00,169.30Z" fill="#3B4992" fill-opacity="0.68"/>
<path d="M837.00,168.50L839.00,170.50L837.00,172.50L835.00,170.50Z" fill="#3B4992" fill-opacity="0.68"/>
<path d="M847.90,168.30L849.90,170.30L847.90,172.30L845.90,170.30Z" fill="#3B4992" fill-opacity="0.68"/>
<path d="M845.90,170.40L847.90,172.40L845.90,174.40L843.90,172.40Z" fill="#3B4992" fill-opacity="0.68"/>
<path d="M846.90,170.70L848.90,172.70L846.90,174.70L844.90,172.70Z" fill="#3B4992" fill-opacity="0.68"/>
<path d="M853.00,170.20L855.00,172.20L853.00,174.20L851.00,172.20Z" fill="#3B4992" fill-opacity="0.68"/>
<path d="M864.30,168.30L866.30,170.30L864.30,172.30L862.30,170.30Z" fill="#3B4992" fill-opacity="0.68"/>
<path d="M869.00,170.70L871.00,172.70L869.00,174.70L867.00,172.70Z" fill="#3B4992" fill-opacity="0.68"/>
<path d="M868.00,173.80L870.00,175.80L868.00,177.80L866.00,175.80Z" fill="#3B4992" fill-opacity="0.68"/>
<path d="M837.60,173.80L839.60,175.80L837.60,177.80L835.60,175.80Z" fill="#3B4992" fill-opacity="0.68"/>
<path d="M856.80,176.40L858.80,178.40L856.80,180.40L854.80,178.40Z" fill="#3B4992" fill-opacity="0.68"/>
<path d="M863.60,175.30L865.60,177.30L863.60,179.30L861.60,177.30Z" fill="#3B4992" fill-opacity="0.68"/>
<path d="M853.40,182.80L855.40,184.80L853.40,186.80L851.40,184.80Z" fill="#3B4992" fill-opacity="0.68"/>
<path d="M862.60,181.90L864.60,183.90L862.60,185.90L860.60,183.90Z" fill="#3B4992" fill-opacity="0.68"/>
<path d="M869.70,181.60L871.70,183.60L869.70,185.60L867.70,183.60Z" fill="#3B4992" fill-opacity="0.68"/>
<path d="M869.40,185.40L871.40,187.40L869.40,189.40L867.40,187.40Z" fill="#3B4992" fill-opacity="0.68"/>
<path d="M867.00,188.60L869.00,190.60L867.00,192.60L865.00,190.60Z" fill="#3B4992" fill-opacity="0.68"/>
<path d="M880.30,167.80L882.30,169.80L880.30,171.80L878.30,169.80Z" fill="#3B4992" fill-opacity="0.68"/>
<path d="M884.50,168.10L886.50,170.10L884.50,172.10L882.50,170.10Z" fill="#3B4992" fill-opacity="0.68"/>
<path d="M872.30,179.70L874.30,181.70L872.30,183.70L870.30,181.70Z" fill="#3B4992" fill-opacity="0.68"/>
<path d="M871.20,181.40L873.20,183.40L871.20,185.40L869.20,183.40Z" fill="#3B4992" fill-opacity="0.68"/>
<path d="M870.80,186.50L872.80,188.50L870.80,190.50L868.80,188.50Z" fill="#3B4992" fill-opacity="0.68"/>
<path d="M877.40,185.80L879.40,187.80L877.40,189.80L875.40,187.80Z" fill="#3B4992" fill-opacity="0.68"/>
<path d="M880.10,186.50L882.10,188.50L880.10,190.50L878.10,188.50Z" fill="#3B4992" fill-opacity="0.68"/>
<path d="M883.80,187.50L885.80,189.50L883.80,191.50L881.80,189.50Z" fill="#3B4992" fill-opacity="0.68"/>
<path d="M885.90,185.50L887.90,187.50L885.90,189.50L883.90,187.50Z" fill="#3B4992" fill-opacity="0.68"/>
<path d="M889.60,184.50L891.60,186.50L889.60,188.50L887.60,186.50Z" fill="#3B4992" fill-opacity="0.68"/>
<path d="M904.50,179.20L906.50,181.20L904.50,183.20L902.50,181.20Z" fill="#3B4992" fill-opacity="0.68"/>
<path d="M878.40,192.40L880.40,194.40L878.40,196.40L876.40,194.40Z" fill="#3B4992" fill-opacity="0.68"/>
<path d="M887.10,191.50L889.10,193.50L887.10,195.50L885.10,193.50Z" fill="#3B4992" fill-opacity="0.68"/>
<path d="M889.30,194.50L891.30,196.50L889.30,198.50L887.30,196.50Z" fill="#3B4992" fill-opacity="0.68"/>
<path d="M894.70,192.60L896.70,194.60L894.70,196.60L892.70,194.60Z" fill="#3B4992" fill-opacity="0.68"/>
<path d="M902.20,189.90L904.20,191.90L902.20,193.90L900.20,191.90Z" fill="#3B4992" fill-opacity="0.68"/>
<path d="M902.90,189.20L904.90,191.20L902.90,193.20L900.90,191.20Z" fill="#3B4992" fill-opacity="0.68"/>
<path d="M873.10,196.40L875.10,198.40L873.10,200.40L871.10,198.40Z" fill="#3B4992" fill-opacity="0.68"/>
<path d="M884.50,196.70L886.50,198.70L884.50,200.70L882.50,198.70Z" fill="#3B4992" fill-opacity="0.68"/>
<path d="M888.30,202.50L890.30,204.50L888.30,206.50L886.30,204.50Z" fill="#3B4992" fill-opacity="0.68"/>
<path d="M910.40,199.00L912.40,201.00L910.40,203.00L908.40,201.00Z" fill="#3B4992" fill-opacity="0.68"/>
<path d="M906.70,202.20L908.70,204.20L906.70,206.20L904.70,204.20Z" fill="#3B4992" fill-opacity="0.68"/>
<path d="M906.70,204.20L908.70,206.20L906.70,208.20L904.70,206.20Z" fill="#3B4992" fill-opacity="0.68"/>
<path d="M900.20,204.90L902.20,206.90L900.20,208.90L898.20,206.90Z" fill="#3B4992" fill-opacity="0.68"/>
<path d="M900.50,205.60L902.50,207.60L900.50,209.60L898.50,207.60Z" fill="#3B4992" fill-opacity="0.68"/>
<path d="M903.30,210.10L905.30,212.10L903.30,214.10L901.30,212.10Z" fill="#3B4992" fill-opacity="0.68"/>
<path d="M897.80,210.70L899.80,212.70L897.80,214.70L895.80,212.70Z" fill="#3B4992" fill-opacity="0.68"/>
<path d="M897.30,213.30L899.30,215.30L897.30,217.30L895.30,215.30Z" fill="#3B4992" fill-opacity="0.68"/>
<path d="M889.60,216.50L891.60,218.50L889.60,220.50L887.60,218.50Z" fill="#3B4992" fill-opacity="0.68"/>
<path d="M891.70,219.40L893.70,221.40L891.70,223.40L889.70,221.40Z" fill="#3B4992" fill-opacity="0.68"/>
<path d="M888.30,221.30L890.30,223.30L888.30,225.30L886.30,223.30Z" fill="#3B4992" fill-opacity="0.68"/>
<path d="M901.60,224.70L903.60,226.70L901.60,228.70L899.60,226.70Z" fill="#3B4992" fill-opacity="0.68"/>
<path d="M915.30,222.10L917.30,224.10L915.30,226.10L913.30,224.10Z" fill="#3B4992" fill-opacity="0.68"/>
<text x="821.60" y="256.90" font-size="11.1" fill="#000" text-anchor="middle">StromalScore</text>
<text x="0" y="0" font-size="11.1" fill="#000" text-anchor="middle" transform="translate(687.62,121.50) rotate(-90)">TumorPurity</text>
<line x1="959.50" y1="29.00" x2="959.50" y2="237.00" stroke="#000" stroke-width="1.0"/>
<line x1="959.00" y1="236.50" x2="1175.00" y2="236.50" stroke="#111" stroke-width="1.0"/>
<line x1="957.90" y1="235.50" x2="959.50" y2="235.50" stroke="#000" stroke-width="0.8"/>
<text x="956.50" y="237.90" font-size="6.8" fill="#000" text-anchor="end" stroke="#000" stroke-width="0.3">0.5</text>
<line x1="957.90" y1="187.50" x2="959.50" y2="187.50" stroke="#000" stroke-width="0.8"/>
<text x="956.50" y="189.90" font-size="6.8" fill="#000" text-anchor="end" stroke="#000" stroke-width="0.3">0.6</text>
<line x1="957.90" y1="139.50" x2="959.50" y2="139.50" stroke="#000" stroke-width="0.8"/>
<text x="956.50" y="141.90" font-size="6.8" fill="#000" text-anchor="end" stroke="#000" stroke-width="0.3">0.7</text>
<line x1="957.90" y1="91.50" x2="959.50" y2="91.50" stroke="#000" stroke-width="0.8"/>
<text x="956.50" y="93.90" font-size="6.8" fill="#000" text-anchor="end" stroke="#000" stroke-width="0.3">0.8</text>
<line x1="957.90" y1="43.50" x2="959.50" y2="43.50" stroke="#000" stroke-width="0.8"/>
<text x="956.50" y="45.90" font-size="6.8" fill="#000" text-anchor="end" stroke="#000" stroke-width="0.3">0.9</text>
<line x1="967.10" y1="236.50" x2="967.10" y2="238.10" stroke="#000" stroke-width="0.8"/>
<text x="967.10" y="245.00" font-size="6.8" fill="#000" text-anchor="middle" stroke="#000" stroke-width="0.3">1000</text>
<line x1="1042.80" y1="236.50" x2="1042.80" y2="238.10" stroke="#000" stroke-width="0.8"/>
<text x="1042.80" y="245.00" font-size="6.8" fill="#000" text-anchor="middle" stroke="#000" stroke-width="0.3">2000</text>
<line x1="1118.50" y1="236.50" x2="1118.50" y2="238.10" stroke="#000" stroke-width="0.8"/>
<text x="1118.50" y="245.00" font-size="6.8" fill="#000" text-anchor="middle" stroke="#000" stroke-width="0.3">3000</text>
<path d="M968.90,36.50L970.90,38.50L968.90,40.50L966.90,38.50Z" fill="#E18727" fill-opacity="0.75"/>
<path d="M983.20,57.40L985.20,59.40L983.20,61.40L981.20,59.40Z" fill="#E18727" fill-opacity="0.75"/>
<path d="M995.60,63.30L997.60,65.30L995.60,67.30L993.60,65.30Z" fill="#E18727" fill-opacity="0.75"/>
<path d="M1008.20,67.50L1010.20,69.50L1008.20,71.50L1006.20,69.50Z" fill="#E18727" fill-opacity="0.75"/>
<path d="M1013.40,69.90L1015.40,71.90L1013.40,73.90L1011.40,71.90Z" fill="#E18727" fill-opacity="0.75"/>
<path d="M1020.60,73.50L1022.60,75.50L1020.60,77.50L1018.60,75.50Z" fill="#E18727" fill-opacity="0.75"/>
<path d="M1015.20,75.80L1017.20,77.80L1015.20,79.80L1013.20,77.80Z" fill="#E18727" fill-opacity="0.75"/>
<path d="M1016.60,74.90L1018.60,76.90L1016.60,78.90L1014.60,76.90Z" fill="#E18727" fill-opacity="0.75"/>
<path d="M1019.30,88.30L1021.30,90.30L1019.30,92.30L1017.30,90.30Z" fill="#E18727" fill-opacity="0.75"/>
<path d="M1033.90,85.60L1035.90,87.60L1033.90,89.60L1031.90,87.60Z" fill="#E18727" fill-opacity="0.75"/>
<path d="M1036.70,87.50L1038.70,89.50L1036.70,91.50L1034.70,89.50Z" fill="#E18727" fill-opacity="0.75"/>
<path d="M1031.60,92.60L1033.60,94.60L1031.60,96.60L1029.60,94.60Z" fill="#E18727" fill-opacity="0.75"/>
<path d="M1024.40,95.10L1026.40,97.10L1024.40,99.10L1022.40,97.10Z" fill="#E18727" fill-opacity="0.75"/>
<path d="M1037.70,95.50L1039.70,97.50L1037.70,99.50L1035.70,97.50Z" fill="#E18727" fill-opacity="0.75"/>
<path d="M1035.50,100.20L1037.50,102.20L1035.50,104.20L1033.50,102.20Z" fill="#E18727" fill-opacity="0.75"/>
<path d="M1038.20,105.00L1040.20,107.00L1038.20,109.00L1036.20,107.00Z" fill="#E18727" fill-opacity="0.75"/>
<path d="M1041.30,86.50L1043.30,88.50L1041.30,90.50L1039.30,88.50Z" fill="#E18727" fill-opacity="0.75"/>
<path d="M1045.60,96.90L1047.60,98.90L1045.60,100.90L1043.60,98.90Z" fill="#E18727" fill-opacity="0.75"/>
<path d="M1049.20,99.00L1051.20,101.00L1049.20,103.00L1047.20,101.00Z" fill="#E18727" fill-opacity="0.75"/>
<path d="M1053.40,96.70L1055.40,98.70L1053.40,100.70L1051.40,98.70Z" fill="#E18727" fill-opacity="0.75"/>
<path d="M1053.40,99.80L1055.40,101.80L1053.40,103.80L1051.40,101.80Z" fill="#E18727" fill-opacity="0.75"/>
<path d="M1043.70,102.20L1045.70,104.20L1043.70,106.20L1041.70,104.20Z" fill="#E18727" fill-opacity="0.75"/>
<path d="M1059.40,101.50L1061.40,103.50L1059.40,105.50L1057.40,103.50Z" fill="#E18727" fill-opacity="0.75"/>
<path d="M1061.20,104.60L1063.20,106.60L1061.20,108.60L1059.20,106.60Z" fill="#E18727" fill-opacity="0.75"/>
<path d="M1045.90,106.60L1047.90,108.60L1045.90,110.60L1043.90,108.60Z" fill="#E18727" fill-opacity="0.75"/>
<path d="M1045.60,108.30L1047.60,110.30L1045.60,112.30L1043.60,110.30Z" fill="#E18727" fill-opacity="0.75"/>
<path d="M1049.00,106.30L1051.00,108.30L1049.00,110.30L1047.00,108.30Z" fill="#E18727" fill-opacity="0.75"/>
<path d="M1055.40,107.30L1057.40,109.30L1055.40,111.30L1053.40,109.30Z" fill="#E18727" fill-opacity="0.75"/>
<path d="M1034.00,110.20L1036.00,112.20L1034.00,114.20L1032.00,112.20Z" fill="#E18727" fill-opacity="0.75"/>
<path d="M1041.50,109.50L1043.50,111.50L1041.50,113.50L1039.50,111.50Z" fill="#E18727" fill-opacity="0.75"/>
<path d="M1047.90,110.60L1049.90,112.60L1047.90,114.60L1045.90,112.60Z" fill="#E18727" fill-opacity="0.75"/>
<path d="M1051.20,109.50L1053.20,111.50L1051.20,113.50L1049.20,111.50Z" fill="#E18727" fill-opacity="0.75"/>
<path d="M1054.80,110.60L1056.80,112.60L1054.80,114.60L1052.80,112.60Z" fill="#E18727" fill-opacity="0.75"/>
<path d="M1059.90,109.70L1061.90,111.70L1059.90,113.70L1057.90,111.70Z" fill="#E18727" fill-opacity="0.75"/>
<path d="M1065.50,110.60L1067.50,112.60L1065.50,114.60L1063.50,112.60Z" fill="#E18727" fill-opacity="0.75"/>
<path d="M1069.40,109.90L1071.40,111.90L1069.40,113.90L1067.40,111.90Z" fill="#E18727" fill-opacity="0.75"/>
<path d="M1073.50,111.30L1075.50,113.30L1073.50,115.30L1071.50,113.30Z" fill="#E18727" fill-opacity="0.75"/>
<path d="M1077.40,109.00L1079.40,111.00L1077.40,113.00L1075.40,111.00Z" fill="#E18727" fill-opacity="0.75"/>
<path d="M1052.70,116.50L1054.70,118.50L1052.70,120.50L1050.70,118.50Z" fill="#E18727" fill-opacity="0.75"/>
<path d="M1055.40,114.50L1057.40,116.50L1055.40,118.50L1053.40,116.50Z" fill="#E18727" fill-opacity="0.75"/>
<path d="M1057.10,115.30L1059.10,117.30L1057.10,119.30L1055.10,117.30Z" fill="#E18727" fill-opacity="0.75"/>
<path d="M1060.20,114.50L1062.20,116.50L1060.20,118.50L1058.20,116.50Z" fill="#E18727" fill-opacity="0.75"/>
<path d="M1065.30,118.20L1067.30,120.20L1065.30,122.20L1063.30,120.20Z" fill="#E18727" fill-opacity="0.75"/>
<path d="M1067.70,116.50L1069.70,118.50L1067.70,120.50L1065.70,118.50Z" fill="#E18727" fill-opacity="0.75"/>
<path d="M1075.90,114.80L1077.90,116.80L1075.90,118.80L1073.90,116.80Z" fill="#E18727" fill-opacity="0.75"/>
<path d="M1077.60,116.50L1079.60,118.50L1077.60,120.50L1075.60,118.50Z" fill="#E18727" fill-opacity="0.75"/>
<path d="M1090.50,117.90L1092.50,119.90L1090.50,121.90L1088.50,119.90Z" fill="#E18727" fill-opacity="0.75"/>
<path d="M1051.00,123.50L1053.00,125.50L1051.00,127.50L1049.00,125.50Z" fill="#E18727" fill-opacity="0.75"/>
<path d="M1053.50,122.00L1055.50,124.00L1053.50,126.00L1051.50,124.00Z" fill="#E18727" fill-opacity="0.75"/>
<path d="M1064.00,123.30L1066.00,125.30L1064.00,127.30L1062.00,125.30Z" fill="#E18727" fill-opacity="0.75"/>
<path d="M1070.10,123.30L1072.10,125.30L1070.10,127.30L1068.10,125.30Z" fill="#E18727" fill-opacity="0.75"/>
<path d="M1073.20,121.50L1075.20,123.50L1073.20,125.50L1071.20,123.50Z" fill="#E18727" fill-opacity="0.75"/>
<path d="M1080.30,122.00L1082.30,124.00L1080.30,126.00L1078.30,124.00Z" fill="#E18727" fill-opacity="0.75"/>
<path d="M1078.60,125.00L1080.60,127.00L1078.60,129.00L1076.60,127.00Z" fill="#E18727" fill-opacity="0.75"/>
<path d="M1079.60,126.40L1081.60,128.40L1079.60,130.40L1077.60,128.40Z" fill="#E18727" fill-opacity="0.75"/>
<path d="M1076.60,125.00L1078.60,127.00L1076.60,129.00L1074.60,127.00Z" fill="#E18727" fill-opacity="0.75"/>
<path d="M1087.30,123.70L1089.30,125.70L1087.30,127.70L1085.30,125.70Z" fill="#E18727" fill-opacity="0.75"/>
<path d="M1092.60,124.30L1094.60,126.30L1092.60,128.30L1090.60,126.30Z" fill="#E18727" fill-opacity="0.75"/>
<path d="M1072.30,127.20L1074.30,129.20L1072.30,131.20L1070.30,129.20Z" fill="#E18727" fill-opacity="0.75"/>
<path d="M1068.00,129.40L1070.00,131.40L1068.00,133.40L1066.00,131.40Z" fill="#E18727" fill-opacity="0.75"/>
<path d="M1076.60,128.40L1078.60,130.40L1076.60,132.40L1074.60,130.40Z" fill="#E18727" fill-opacity="0.75"/>
<path d="M1077.90,131.00L1079.90,133.00L1077.90,135.00L1075.90,133.00Z" fill="#E18727" fill-opacity="0.75"/>
<path d="M1071.10,131.50L1073.10,133.50L1071.10,135.50L1069.10,133.50Z" fill="#E18727" fill-opacity="0.75"/>
<path d="M1074.50,132.20L1076.50,134.20L1074.50,136.20L1072.50,134.20Z" fill="#E18727" fill-opacity="0.75"/>
<path d="M1084.70,128.80L1086.70,130.80L1084.70,132.80L1082.70,130.80Z" fill="#E18727" fill-opacity="0.75"/>
<path d="M1085.80,130.80L1087.80,132.80L1085.80,134.80L1083.80,132.80Z" fill="#E18727" fill-opacity="0.75"/>
<path d="M1090.50,128.10L1092.50,130.10L1090.50,132.10L1088.50,130.10Z" fill="#E18727" fill-opacity="0.75"/>
<path d="M1097.70,127.60L1099.70,129.60L1097.70,131.60L1095.70,129.60Z" fill="#E18727" fill-opacity="0.75"/>
<path d="M1096.30,131.50L1098.30,133.50L1096.30,135.50L1094.30,133.50Z" fill="#E18727" fill-opacity="0.75"/>
<path d="M1079.80,135.20L1081.80,137.20L1079.80,139.20L1077.80,137.20Z" fill="#E18727" fill-opacity="0.75"/>
<path d="M1084.10,134.60L1086.10,136.60L1084.10,138.60L1082.10,136.60Z" fill="#E18727" fill-opacity="0.75"/>
<path d="M1083.00,136.60L1085.00,138.60L1083.00,140.60L1081.00,138.60Z" fill="#E18727" fill-opacity="0.75"/>
<path d="M1083.70,138.60L1085.70,140.60L1083.70,142.60L1081.70,140.60Z" fill="#E18727" fill-opacity="0.75"/>
<path d="M1084.40,140.00L1086.40,142.00L1084.40,144.00L1082.40,142.00Z" fill="#E18727" fill-opacity="0.75"/>
<path d="M1090.50,135.40L1092.50,137.40L1090.50,139.40L1088.50,137.40Z" fill="#E18727" fill-opacity="0.75"/>
<path d="M1094.60,134.40L1096.60,136.40L1094.60,138.40L1092.60,136.40Z" fill="#E18727" fill-opacity="0.75"/>
<path d="M1096.30,136.30L1098.30,138.30L1096.30,140.30L1094.30,138.30Z" fill="#E18727" fill-opacity="0.75"/>
<path d="M1071.40,137.30L1073.40,139.30L1071.40,141.30L1069.40,139.30Z" fill="#E18727" fill-opacity="0.75"/>
<path d="M1073.50,139.70L1075.50,141.70L1073.50,143.70L1071.50,141.70Z" fill="#E18727" fill-opacity="0.75"/>
<path d="M1088.80,140.40L1090.80,142.40L1088.80,144.40L1086.80,142.40Z" fill="#E18727" fill-opacity="0.75"/>
<path d="M1091.20,140.40L1093.20,142.40L1091.20,144.40L1089.20,142.40Z" fill="#E18727" fill-opacity="0.75"/>
<path d="M1075.50,142.70L1077.50,144.70L1075.50,146.70L1073.50,144.70Z" fill="#E18727" fill-opacity="0.75"/>
<path d="M1084.10,142.70L1086.10,144.70L1084.10,146.70L1082.10,144.70Z" fill="#E18727" fill-opacity="0.75"/>
<path d="M1093.50,142.70L1095.50,144.70L1093.50,146.70L1091.50,144.70Z" fill="#E18727" fill-opacity="0.75"/>
<path d="M1080.50,145.80L1082.50,147.80L1080.50,149.80L1078.50,147.80Z" fill="#E18727" fill-opacity="0.75"/>
<path d="M1083.70,147.50L1085.70,149.50L1083.70,151.50L1081.70,149.50Z" fill="#E18727" fill-opacity="0.75"/>
<path d="M1090.20,147.80L1092.20,149.80L1090.20,151.80L1088.20,149.80Z" fill="#E18727" fill-opacity="0.75"/>
<path d="M1092.20,147.20L1094.20,149.20L1092.20,151.20L1090.20,149.20Z" fill="#E18727" fill-opacity="0.75"/>
<path d="M1096.00,148.30L1098.00,150.30L1096.00,152.30L1094.00,150.30Z" fill="#E18727" fill-opacity="0.75"/>
<path d="M1099.40,146.10L1101.40,148.10L1099.40,150.10L1097.40,148.10Z" fill="#E18727" fill-opacity="0.75"/>
<path d="M1095.30,153.30L1097.30,155.30L1095.30,157.30L1093.30,155.30Z" fill="#E18727" fill-opacity="0.75"/>
<path d="M1098.00,151.90L1100.00,153.90L1098.00,155.90L1096.00,153.90Z" fill="#E18727" fill-opacity="0.75"/>
<path d="M1098.40,155.30L1100.40,157.30L1098.40,159.30L1096.40,157.30Z" fill="#E18727" fill-opacity="0.75"/>
<path d="M1109.90,143.10L1111.90,145.10L1109.90,147.10L1107.90,145.10Z" fill="#E18727" fill-opacity="0.75"/>
<path d="M1107.50,145.30L1109.50,147.30L1107.50,149.30L1105.50,147.30Z" fill="#E18727" fill-opacity="0.75"/>
<path d="M1116.30,149.60L1118.30,151.60L1116.30,153.60L1114.30,151.60Z" fill="#E18727" fill-opacity="0.75"/>
<path d="M1116.00,151.60L1118.00,153.60L1116.00,155.60L1114.00,153.60Z" fill="#E18727" fill-opacity="0.75"/>
<path d="M1100.70,152.60L1102.70,154.60L1100.70,156.60L1098.70,154.60Z" fill="#E18727" fill-opacity="0.75"/>
<path d="M1104.40,155.40L1106.40,157.40L1104.40,159.40L1102.40,157.40Z" fill="#E18727" fill-opacity="0.75"/>
<path d="M1103.40,157.10L1105.40,159.10L1103.40,161.10L1101.40,159.10Z" fill="#E18727" fill-opacity="0.75"/>
<path d="M1112.30,155.40L1114.30,157.40L1112.30,159.40L1110.30,157.40Z" fill="#E18727" fill-opacity="0.75"/>
<path d="M1101.00,159.80L1103.00,161.80L1101.00,163.80L1099.00,161.80Z" fill="#E18727" fill-opacity="0.75"/>
<path d="M1103.70,159.40L1105.70,161.40L1103.70,163.40L1101.70,161.40Z" fill="#E18727" fill-opacity="0.75"/>
<path d="M1109.90,160.50L1111.90,162.50L1109.90,164.50L1107.90,162.50Z" fill="#E18727" fill-opacity="0.75"/>
<path d="M1109.20,161.50L1111.20,163.50L1109.20,165.50L1107.20,163.50Z" fill="#E18727" fill-opacity="0.75"/>
<path d="M1105.30,163.30L1107.30,165.30L1105.30,167.30L1103.30,165.30Z" fill="#E18727" fill-opacity="0.75"/>
<path d="M1116.30,162.90L1118.30,164.90L1116.30,166.90L1114.30,164.90Z" fill="#E18727" fill-opacity="0.75"/>
<path d="M1120.80,164.20L1122.80,166.20L1120.80,168.20L1118.80,166.20Z" fill="#E18727" fill-opacity="0.75"/>
<path d="M1122.80,163.20L1124.80,165.20L1122.80,167.20L1120.80,165.20Z" fill="#E18727" fill-opacity="0.75"/>
<path d="M1122.10,165.60L1124.10,167.60L1122.10,169.60L1120.10,167.60Z" fill="#E18727" fill-opacity="0.75"/>
<path d="M1128.60,167.60L1130.60,169.60L1128.60,171.60L1126.60,169.60Z" fill="#E18727" fill-opacity="0.75"/>
<path d="M1128.60,168.60L1130.60,170.60L1128.60,172.60L1126.60,170.60Z" fill="#E18727" fill-opacity="0.75"/>
<path d="M1096.90,168.00L1098.90,170.00L1096.90,172.00L1094.90,170.00Z" fill="#E18727" fill-opacity="0.75"/>
<path d="M1099.30,167.80L1101.30,169.80L1099.30,171.80L1097.30,169.80Z" fill="#E18727" fill-opacity="0.75"/>
<path d="M1110.20,168.30L1112.20,170.30L1110.20,172.30L1108.20,170.30Z" fill="#E18727" fill-opacity="0.75"/>
<path d="M1110.20,171.00L1112.20,173.00L1110.20,175.00L1108.20,173.00Z" fill="#E18727" fill-opacity="0.75"/>
<path d="M1120.40,168.30L1122.40,170.30L1120.40,172.30L1118.40,170.30Z" fill="#E18727" fill-opacity="0.75"/>
<path d="M1119.80,170.10L1121.80,172.10L1119.80,174.10L1117.80,172.10Z" fill="#E18727" fill-opacity="0.75"/>
<path d="M1121.50,171.00L1123.50,173.00L1121.50,175.00L1119.50,173.00Z" fill="#E18727" fill-opacity="0.75"/>
<path d="M1125.20,170.40L1127.20,172.40L1125.20,174.40L1123.20,172.40Z" fill="#E18727" fill-opacity="0.75"/>
<path d="M1126.60,170.70L1128.60,172.70L1126.60,174.70L1124.60,172.70Z" fill="#E18727" fill-opacity="0.75"/>
<path d="M1115.30,173.80L1117.30,175.80L1115.30,177.80L1113.30,175.80Z" fill="#E18727" fill-opacity="0.75"/>
<path d="M1120.10,175.50L1122.10,177.50L1120.10,179.50L1118.10,177.50Z" fill="#E18727" fill-opacity="0.75"/>
<path d="M1126.20,176.10L1128.20,178.10L1126.20,180.10L1124.20,178.10Z" fill="#E18727" fill-opacity="0.75"/>
<path d="M1135.40,173.80L1137.40,175.80L1135.40,177.80L1133.40,175.80Z" fill="#E18727" fill-opacity="0.75"/>
<path d="M1098.60,179.20L1100.60,181.20L1098.60,183.20L1096.60,181.20Z" fill="#E18727" fill-opacity="0.75"/>
<path d="M1120.80,179.90L1122.80,181.90L1120.80,183.90L1118.80,181.90Z" fill="#E18727" fill-opacity="0.75"/>
<path d="M1124.50,181.70L1126.50,183.70L1124.50,185.70L1122.50,183.70Z" fill="#E18727" fill-opacity="0.75"/>
<path d="M1130.30,181.90L1132.30,183.90L1130.30,185.90L1128.30,183.90Z" fill="#E18727" fill-opacity="0.75"/>
<path d="M1137.10,182.60L1139.10,184.60L1137.10,186.60L1135.10,184.60Z" fill="#E18727" fill-opacity="0.75"/>
<path d="M1115.70,184.30L1117.70,186.30L1115.70,188.30L1113.70,186.30Z" fill="#E18727" fill-opacity="0.75"/>
<path d="M1118.40,184.90L1120.40,186.90L1118.40,188.90L1116.40,186.90Z" fill="#E18727" fill-opacity="0.75"/>
<path d="M1121.80,186.40L1123.80,188.40L1121.80,190.40L1119.80,188.40Z" fill="#E18727" fill-opacity="0.75"/>
<path d="M1124.50,185.70L1126.50,187.70L1124.50,189.70L1122.50,187.70Z" fill="#E18727" fill-opacity="0.75"/>
<path d="M1125.90,187.00L1127.90,189.00L1125.90,191.00L1123.90,189.00Z" fill="#E18727" fill-opacity="0.75"/>
<path d="M1129.30,185.00L1131.30,187.00L1129.30,189.00L1127.30,187.00Z" fill="#E18727" fill-opacity="0.75"/>
<path d="M1131.30,186.40L1133.30,188.40L1131.30,190.40L1129.30,188.40Z" fill="#E18727" fill-opacity="0.75"/>
<path d="M1136.10,187.70L1138.10,189.70L1136.10,191.70L1134.10,189.70Z" fill="#E18727" fill-opacity="0.75"/>
<path d="M1135.90,188.50L1137.90,190.50L1135.90,192.50L1133.90,190.50Z" fill="#E18727" fill-opacity="0.75"/>
<path d="M1113.40,189.40L1115.40,191.40L1113.40,193.40L1111.40,191.40Z" fill="#E18727" fill-opacity="0.75"/>
<path d="M1116.40,190.80L1118.40,192.80L1116.40,194.80L1114.40,192.80Z" fill="#E18727" fill-opacity="0.75"/>
<path d="M1123.30,192.60L1125.30,194.60L1123.30,196.60L1121.30,194.60Z" fill="#E18727" fill-opacity="0.75"/>
<path d="M1127.00,191.50L1129.00,193.50L1127.00,195.50L1125.00,193.50Z" fill="#E18727" fill-opacity="0.75"/>
<path d="M1129.40,194.50L1131.40,196.50L1129.40,198.50L1127.40,196.50Z" fill="#E18727" fill-opacity="0.75"/>
<path d="M1133.80,192.40L1135.80,194.40L1133.80,196.40L1131.80,194.40Z" fill="#E18727" fill-opacity="0.75"/>
<path d="M1135.50,196.50L1137.50,198.50L1135.50,200.50L1133.50,198.50Z" fill="#E18727" fill-opacity="0.75"/>
<path d="M1142.30,196.20L1144.30,198.20L1142.30,200.20L1140.30,198.20Z" fill="#E18727" fill-opacity="0.75"/>
<path d="M1121.60,199.10L1123.60,201.10L1121.60,203.10L1119.60,201.10Z" fill="#E18727" fill-opacity="0.75"/>
<path d="M1127.70,202.10L1129.70,204.10L1127.70,206.10L1125.70,204.10Z" fill="#E18727" fill-opacity="0.75"/>
<path d="M1130.70,204.20L1132.70,206.20L1130.70,208.20L1128.70,206.20Z" fill="#E18727" fill-opacity="0.75"/>
<path d="M1135.90,204.70L1137.90,206.70L1135.90,208.70L1133.90,206.70Z" fill="#E18727" fill-opacity="0.75"/>
<path d="M1136.50,205.90L1138.50,207.90L1136.50,209.90L1134.50,207.90Z" fill="#E18727" fill-opacity="0.75"/>
<path d="M1140.80,202.50L1142.80,204.50L1140.80,206.50L1138.80,204.50Z" fill="#E18727" fill-opacity="0.75"/>
<path d="M1140.30,209.80L1142.30,211.80L1140.30,213.80L1138.30,211.80Z" fill="#E18727" fill-opacity="0.75"/>
<path d="M1141.60,210.70L1143.60,212.70L1141.60,214.70L1139.60,212.70Z" fill="#E18727" fill-opacity="0.75"/>
<path d="M1145.40,210.70L1147.40,212.70L1145.40,214.70L1143.40,212.70Z" fill="#E18727" fill-opacity="0.75"/>
<path d="M1148.40,213.20L1150.40,215.20L1148.40,217.20L1146.40,215.20Z" fill="#E18727" fill-opacity="0.75"/>
<path d="M1158.30,216.40L1160.30,218.40L1158.30,220.40L1156.30,218.40Z" fill="#E18727" fill-opacity="0.75"/>
<path d="M1160.20,219.40L1162.20,221.40L1160.20,223.40L1158.20,221.40Z" fill="#E18727" fill-opacity="0.75"/>
<path d="M1164.60,221.20L1166.60,223.20L1164.60,225.20L1162.60,223.20Z" fill="#E18727" fill-opacity="0.75"/>
<path d="M1148.40,222.10L1150.40,224.10L1148.40,226.10L1146.40,224.10Z" fill="#E18727" fill-opacity="0.75"/>
<path d="M1160.40,224.80L1162.40,226.80L1160.40,228.80L1158.40,226.80Z" fill="#E18727" fill-opacity="0.75"/>
<text x="1071.30" y="256.90" font-size="11.1" fill="#000" text-anchor="middle">ImmuneScore</text>
<text x="0" y="0" font-size="11.1" fill="#000" text-anchor="middle" transform="translate(943.32,121.90) rotate(-90)">TumorPurity</text>
<line x1="709.50" y1="269.50" x2="709.50" y2="477.00" stroke="#000" stroke-width="1.0"/>
<line x1="709.00" y1="476.50" x2="924.60" y2="476.50" stroke="#111" stroke-width="1.0"/>
<line x1="707.90" y1="468.80" x2="709.50" y2="468.80" stroke="#000" stroke-width="0.8"/>
<text x="706.50" y="471.20" font-size="6.8" fill="#000" text-anchor="end" stroke="#000" stroke-width="0.3">1000</text>
<line x1="707.90" y1="396.10" x2="709.50" y2="396.10" stroke="#000" stroke-width="0.8"/>
<text x="706.50" y="398.50" font-size="6.8" fill="#000" text-anchor="end" stroke="#000" stroke-width="0.3">2000</text>
<line x1="707.90" y1="323.40" x2="709.50" y2="323.40" stroke="#000" stroke-width="0.8"/>
<text x="706.50" y="325.80" font-size="6.8" fill="#000" text-anchor="end" stroke="#000" stroke-width="0.3">3000</text>
<line x1="769.00" y1="476.50" x2="769.00" y2="478.10" stroke="#000" stroke-width="0.8"/>
<text x="769.00" y="485.30" font-size="7.6" fill="#000" text-anchor="middle" stroke="#000" stroke-width="0.3">high</text>
<line x1="866.60" y1="476.50" x2="866.60" y2="478.10" stroke="#000" stroke-width="0.8"/>
<text x="866.60" y="485.30" font-size="7.6" fill="#000" text-anchor="middle" stroke="#000" stroke-width="0.3">low</text>
<path d="M761.50,278.70 L774.70,278.70 C775.68,280.17 778.28,284.58 780.60,287.50 C782.92,290.42 785.88,293.30 788.60,296.20 C791.32,299.10 794.42,301.98 796.90,304.90 C799.38,307.82 802.18,310.78 803.50,313.70 C804.82,316.62 804.52,319.50 804.80,322.40 C805.08,325.30 804.62,328.18 805.20,331.10 C805.78,334.02 807.25,336.98 808.30,339.90 C809.35,342.82 810.80,346.28 811.50,348.60 C812.20,350.92 812.75,351.77 812.50,353.80 C812.25,355.83 811.22,358.47 810.00,360.80 C808.78,363.13 806.93,365.47 805.20,367.80 C803.47,370.13 802.07,372.18 799.60,374.80 C797.13,377.42 793.10,380.58 790.40,383.50 C787.70,386.42 785.15,389.38 783.40,392.30 C781.65,395.22 780.82,398.10 779.90,401.00 C778.98,403.90 778.55,406.78 777.90,409.70 C777.25,412.62 776.77,415.58 776.00,418.50 C775.23,421.42 774.18,424.30 773.30,427.20 C772.42,430.10 771.28,432.98 770.70,435.90 C770.12,438.82 769.98,441.78 769.80,444.70 C769.62,447.62 769.63,449.62 769.60,453.40 C769.57,457.18 769.60,465.07 769.60,467.40 L766.60,467.40 C766.60,465.07 766.63,457.18 766.60,453.40 C766.57,449.62 766.58,447.62 766.40,444.70 C766.22,441.78 766.08,438.82 765.50,435.90 C764.92,432.98 763.78,430.10 762.90,427.20 C762.02,424.30 760.97,421.42 760.20,418.50 C759.43,415.58 758.95,412.62 758.30,409.70 C757.65,406.78 757.22,403.90 756.30,401.00 C755.38,398.10 754.55,395.22 752.80,392.30 C751.05,389.38 748.50,386.42 745.80,383.50 C743.10,380.58 739.07,377.42 736.60,374.80 C734.13,372.18 732.73,370.13 731.00,367.80 C729.27,365.47 727.42,363.13 726.20,360.80 C724.98,358.47 723.95,355.83 723.70,353.80 C723.45,351.77 724.00,350.92 724.70,348.60 C725.40,346.28 726.85,342.82 727.90,339.90 C728.95,336.98 730.42,334.02 731.00,331.10 C731.58,328.18 731.12,325.30 731.40,322.40 C731.68,319.50 731.38,316.62 732.70,313.70 C734.02,310.78 736.82,307.82 739.30,304.90 C741.78,301.98 744.88,299.10 747.60,296.20 C750.32,293.30 753.28,290.42 755.60,287.50 C757.92,284.58 760.52,280.17 761.50,278.70 Z" fill="#66BA8F" stroke="#2a2a2a" stroke-width="0.9"/>
<line x1="768.10" y1="278.70" x2="768.10" y2="424.60" stroke="#444" stroke-width="1.0"/>
<rect x="760.90" y="317.20" width="14.70" height="49.20" fill="#fff" stroke="#444" stroke-width="0.9"/>
<line x1="760.90" y1="348.60" x2="775.60" y2="348.60" stroke="#444" stroke-width="0.9"/>
<path d="M861.90,282.60 L870.30,282.60 C870.77,283.42 871.38,285.23 873.10,287.50 C874.82,289.77 877.90,293.30 880.60,296.20 C883.30,299.10 886.48,301.98 889.30,304.90 C892.12,307.82 895.03,310.78 897.50,313.70 C899.97,316.62 902.60,319.50 904.10,322.40 C905.60,325.30 906.13,328.18 906.50,331.10 C906.87,334.02 906.55,336.98 906.30,339.90 C906.05,342.82 905.37,345.70 905.00,348.60 C904.63,351.50 904.47,354.38 904.10,357.30 C903.73,360.22 903.42,363.18 902.80,366.10 C902.18,369.02 901.35,371.90 900.40,374.80 C899.45,377.70 898.45,380.58 897.10,383.50 C895.75,386.42 894.27,389.38 892.30,392.30 C890.33,395.22 887.70,398.10 885.30,401.00 C882.90,403.90 879.85,406.78 877.90,409.70 C875.95,412.62 874.77,415.58 873.60,418.50 C872.43,421.42 871.52,424.30 870.90,427.20 C870.28,430.10 870.13,432.98 869.90,435.90 C869.67,438.82 869.63,441.78 869.50,444.70 C869.37,447.62 869.17,451.95 869.10,453.40 L863.10,453.40 C863.03,451.95 862.83,447.62 862.70,444.70 C862.57,441.78 862.53,438.82 862.30,435.90 C862.07,432.98 861.92,430.10 861.30,427.20 C860.68,424.30 859.77,421.42 858.60,418.50 C857.43,415.58 856.25,412.62 854.30,409.70 C852.35,406.78 849.30,403.90 846.90,401.00 C844.50,398.10 841.87,395.22 839.90,392.30 C837.93,389.38 836.45,386.42 835.10,383.50 C833.75,380.58 832.75,377.70 831.80,374.80 C830.85,371.90 830.02,369.02 829.40,366.10 C828.78,363.18 828.47,360.22 828.10,357.30 C827.73,354.38 827.57,351.50 827.20,348.60 C826.83,345.70 826.15,342.82 825.90,339.90 C825.65,336.98 825.33,334.02 825.70,331.10 C826.07,328.18 826.60,325.30 828.10,322.40 C829.60,319.50 832.23,316.62 834.70,313.70 C837.17,310.78 840.08,307.82 842.90,304.90 C845.72,301.98 848.90,299.10 851.60,296.20 C854.30,293.30 857.38,289.77 859.10,287.50 C860.82,285.23 861.43,283.42 861.90,282.60 Z" fill="#A174B1" stroke="#2a2a2a" stroke-width="0.9"/>
<line x1="866.10" y1="282.60" x2="866.10" y2="453.40" stroke="#444" stroke-width="1.0"/>
<rect x="858.60" y="325.90" width="15.00" height="53.80" fill="#fff" stroke="#444" stroke-width="0.9"/>
<line x1="858.60" y1="351.40" x2="873.60" y2="351.40" stroke="#444" stroke-width="0.9"/>
<text x="784.30" y="279.00" font-size="6.5" fill="#000" text-anchor="middle" stroke="#000" stroke-width="0.2">Wilcoxon, p = 0.13</text>
<text x="819.30" y="497.80" font-size="11.1" fill="#000" text-anchor="middle">Risk_score</text>
<text x="0" y="0" font-size="11.1" fill="#000" text-anchor="middle" transform="translate(687.22,360.40) rotate(-90)">ImmuneScore</text>
<line x1="959.50" y1="269.50" x2="959.50" y2="477.00" stroke="#000" stroke-width="1.0"/>
<line x1="959.00" y1="476.50" x2="1175.00" y2="476.50" stroke="#111" stroke-width="1.0"/>
<line x1="957.90" y1="476.30" x2="959.50" y2="476.30" stroke="#000" stroke-width="0.8"/>
<text x="956.50" y="478.70" font-size="6.8" fill="#000" text-anchor="end" stroke="#000" stroke-width="0.3">0.5</text>
<line x1="957.90" y1="428.30" x2="959.50" y2="428.30" stroke="#000" stroke-width="0.8"/>
<text x="956.50" y="430.70" font-size="6.8" fill="#000" text-anchor="end" stroke="#000" stroke-width="0.3">0.6</text>
<line x1="957.90" y1="380.30" x2="959.50" y2="380.30" stroke="#000" stroke-width="0.8"/>
<text x="956.50" y="382.70" font-size="6.8" fill="#000" text-anchor="end" stroke="#000" stroke-width="0.3">0.7</text>
<line x1="957.90" y1="332.30" x2="959.50" y2="332.30" stroke="#000" stroke-width="0.8"/>
<text x="956.50" y="334.70" font-size="6.8" fill="#000" text-anchor="end" stroke="#000" stroke-width="0.3">0.8</text>
<line x1="957.90" y1="284.30" x2="959.50" y2="284.30" stroke="#000" stroke-width="0.8"/>
<text x="956.50" y="286.70" font-size="6.8" fill="#000" text-anchor="end" stroke="#000" stroke-width="0.3">0.9</text>
<line x1="1019.00" y1="476.50" x2="1019.00" y2="478.10" stroke="#000" stroke-width="0.8"/>
<text x="1019.00" y="485.30" font-size="7.6" fill="#000" text-anchor="middle" stroke="#000" stroke-width="0.3">high</text>
<line x1="1116.80" y1="476.50" x2="1116.80" y2="478.10" stroke="#000" stroke-width="0.8"/>
<text x="1116.80" y="485.30" font-size="7.6" fill="#000" text-anchor="middle" stroke="#000" stroke-width="0.3">low</text>
<path d="M1016.60,278.70 L1019.20,278.70 C1019.25,280.17 1019.25,284.58 1019.50,287.50 C1019.75,290.42 1020.02,293.30 1020.70,296.20 C1021.38,299.10 1022.53,301.98 1023.60,304.90 C1024.67,307.82 1025.93,310.78 1027.10,313.70 C1028.27,316.62 1029.37,319.50 1030.60,322.40 C1031.83,325.30 1033.12,328.18 1034.50,331.10 C1035.88,334.02 1036.93,336.98 1038.90,339.90 C1040.87,342.82 1043.68,345.70 1046.30,348.60 C1048.92,351.50 1052.35,354.38 1054.60,357.30 C1056.85,360.22 1058.57,363.18 1059.80,366.10 C1061.03,369.02 1061.80,371.90 1062.00,374.80 C1062.20,377.70 1061.73,380.58 1061.00,383.50 C1060.27,386.42 1058.97,389.38 1057.60,392.30 C1056.23,395.22 1054.32,398.10 1052.80,401.00 C1051.28,403.90 1049.80,406.78 1048.50,409.70 C1047.20,412.62 1046.17,415.58 1045.00,418.50 C1043.83,421.42 1042.82,424.30 1041.50,427.20 C1040.18,430.10 1038.37,432.98 1037.10,435.90 C1035.83,438.82 1035.02,441.78 1033.90,444.70 C1032.78,447.62 1031.62,450.20 1030.40,453.40 C1029.18,456.60 1027.23,462.15 1026.60,463.90 L1009.20,463.90 C1008.57,462.15 1006.62,456.60 1005.40,453.40 C1004.18,450.20 1003.02,447.62 1001.90,444.70 C1000.78,441.78 999.97,438.82 998.70,435.90 C997.43,432.98 995.62,430.10 994.30,427.20 C992.98,424.30 991.97,421.42 990.80,418.50 C989.63,415.58 988.60,412.62 987.30,409.70 C986.00,406.78 984.52,403.90 983.00,401.00 C981.48,398.10 979.57,395.22 978.20,392.30 C976.83,389.38 975.53,386.42 974.80,383.50 C974.07,380.58 973.60,377.70 973.80,374.80 C974.00,371.90 974.77,369.02 976.00,366.10 C977.23,363.18 978.95,360.22 981.20,357.30 C983.45,354.38 986.88,351.50 989.50,348.60 C992.12,345.70 994.93,342.82 996.90,339.90 C998.87,336.98 999.92,334.02 1001.30,331.10 C1002.68,328.18 1003.97,325.30 1005.20,322.40 C1006.43,319.50 1007.53,316.62 1008.70,313.70 C1009.87,310.78 1011.13,307.82 1012.20,304.90 C1013.27,301.98 1014.42,299.10 1015.10,296.20 C1015.78,293.30 1016.05,290.42 1016.30,287.50 C1016.55,284.58 1016.55,280.17 1016.60,278.70 Z" fill="#66BA8F" stroke="#2a2a2a" stroke-width="0.9"/>
<line x1="1017.90" y1="312.80" x2="1017.90" y2="463.90" stroke="#444" stroke-width="1.0"/>
<rect x="1010.40" y="366.40" width="14.90" height="46.80" fill="#fff" stroke="#444" stroke-width="0.9"/>
<line x1="1010.40" y1="387.40" x2="1025.30" y2="387.40" stroke="#444" stroke-width="0.9"/>
<path d="M1111.60,300.00 L1120.60,300.00 C1120.77,300.82 1121.03,302.62 1121.60,304.90 C1122.17,307.18 1122.73,310.78 1124.00,313.70 C1125.27,316.62 1126.88,319.50 1129.20,322.40 C1131.52,325.30 1134.98,328.18 1137.90,331.10 C1140.82,334.02 1144.07,336.98 1146.70,339.90 C1149.33,342.82 1151.93,345.70 1153.70,348.60 C1155.47,351.50 1156.78,354.38 1157.30,357.30 C1157.82,360.22 1157.27,363.18 1156.80,366.10 C1156.33,369.02 1155.32,371.90 1154.50,374.80 C1153.68,377.70 1152.65,380.58 1151.90,383.50 C1151.15,386.42 1150.50,389.38 1150.00,392.30 C1149.50,395.22 1149.35,398.10 1148.90,401.00 C1148.45,403.90 1147.97,406.78 1147.30,409.70 C1146.63,412.62 1146.02,415.58 1144.90,418.50 C1143.78,421.42 1142.20,424.30 1140.60,427.20 C1139.00,430.10 1137.05,432.98 1135.30,435.90 C1133.55,438.82 1131.70,441.78 1130.10,444.70 C1128.50,447.62 1126.98,450.50 1125.70,453.40 C1124.42,456.30 1123.13,459.77 1122.40,462.10 C1121.67,464.43 1121.48,466.52 1121.30,467.40 L1110.90,467.40 C1110.72,466.52 1110.53,464.43 1109.80,462.10 C1109.07,459.77 1107.78,456.30 1106.50,453.40 C1105.22,450.50 1103.70,447.62 1102.10,444.70 C1100.50,441.78 1098.65,438.82 1096.90,435.90 C1095.15,432.98 1093.20,430.10 1091.60,427.20 C1090.00,424.30 1088.42,421.42 1087.30,418.50 C1086.18,415.58 1085.57,412.62 1084.90,409.70 C1084.23,406.78 1083.75,403.90 1083.30,401.00 C1082.85,398.10 1082.70,395.22 1082.20,392.30 C1081.70,389.38 1081.05,386.42 1080.30,383.50 C1079.55,380.58 1078.52,377.70 1077.70,374.80 C1076.88,371.90 1075.87,369.02 1075.40,366.10 C1074.93,363.18 1074.38,360.22 1074.90,357.30 C1075.42,354.38 1076.73,351.50 1078.50,348.60 C1080.27,345.70 1082.87,342.82 1085.50,339.90 C1088.13,336.98 1091.38,334.02 1094.30,331.10 C1097.22,328.18 1100.68,325.30 1103.00,322.40 C1105.32,319.50 1106.93,316.62 1108.20,313.70 C1109.47,310.78 1110.03,307.18 1110.60,304.90 C1111.17,302.62 1111.43,300.82 1111.60,300.00 Z" fill="#A174B1" stroke="#2a2a2a" stroke-width="0.9"/>
<line x1="1116.10" y1="300.00" x2="1116.10" y2="467.40" stroke="#444" stroke-width="1.0"/>
<rect x="1108.60" y="354.20" width="14.80" height="58.20" fill="#fff" stroke="#444" stroke-width="0.9"/>
<line x1="1108.60" y1="380.40" x2="1123.40" y2="380.40" stroke="#444" stroke-width="0.9"/>
<text x="1034.00" y="279.00" font-size="6.5" fill="#000" text-anchor="middle" stroke="#000" stroke-width="0.2">Wilcoxon, p = 0.33</text>
<text x="1068.70" y="497.80" font-size="11.1" fill="#000" text-anchor="middle">Risk_score</text>
<text x="0" y="0" font-size="11.1" fill="#000" text-anchor="middle" transform="translate(943.72,361.60) rotate(-90)">TumorPurity</text>
<text x="838.00" y="517.00" font-size="12.8" fill="#000" text-anchor="start">Risk_score</text>
<rect x="908.70" y="504.40" width="17.10" height="16.90" fill="#66BA8F" stroke="#333" stroke-width="0.8"/>
<text x="932.90" y="516.50" font-size="10.8" fill="#000" text-anchor="start">high</text>
<rect x="960.30" y="504.40" width="17.10" height="16.90" fill="#A174B1" stroke="#333" stroke-width="0.8"/>
<text x="984.40" y="516.50" font-size="10.8" fill="#000" text-anchor="start">low</text>
<rect x="192.50" y="561.50" width="972.30" height="325.70" fill="#fff" stroke="none" stroke-width="1.0"/>
<line x1="192.50" y1="578.60" x2="1164.80" y2="578.60" stroke="#EBEBEB" stroke-width="1.1"/>
<line x1="192.50" y1="607.74" x2="1164.80" y2="607.74" stroke="#EBEBEB" stroke-width="1.1"/>
<line x1="192.50" y1="636.88" x2="1164.80" y2="636.88" stroke="#EBEBEB" stroke-width="1.1"/>
<line x1="192.50" y1="666.02" x2="1164.80" y2="666.02" stroke="#EBEBEB" stroke-width="1.1"/>
<line x1="192.50" y1="695.16" x2="1164.80" y2="695.16" stroke="#EBEBEB" stroke-width="1.1"/>
<line x1="192.50" y1="724.30" x2="1164.80" y2="724.30" stroke="#EBEBEB" stroke-width="1.1"/>
<line x1="192.50" y1="753.44" x2="1164.80" y2="753.44" stroke="#EBEBEB" stroke-width="1.1"/>
<line x1="192.50" y1="782.58" x2="1164.80" y2="782.58" stroke="#EBEBEB" stroke-width="1.1"/>
<line x1="192.50" y1="811.72" x2="1164.80" y2="811.72" stroke="#EBEBEB" stroke-width="1.1"/>
<line x1="192.50" y1="840.86" x2="1164.80" y2="840.86" stroke="#EBEBEB" stroke-width="1.1"/>
<line x1="192.50" y1="870.00" x2="1164.80" y2="870.00" stroke="#EBEBEB" stroke-width="1.1"/>
<line x1="331.50" y1="561.50" x2="331.50" y2="887.20" stroke="#EBEBEB" stroke-width="1.1"/>
<line x1="562.90" y1="561.50" x2="562.90" y2="887.20" stroke="#EBEBEB" stroke-width="1.1"/>
<line x1="794.30" y1="561.50" x2="794.30" y2="887.20" stroke="#EBEBEB" stroke-width="1.1"/>
<line x1="1025.70" y1="561.50" x2="1025.70" y2="887.20" stroke="#EBEBEB" stroke-width="1.1"/>
<rect x="192.50" y="561.50" width="972.30" height="325.70" fill="none" stroke="#D4D4D4" stroke-width="1.0"/>
<line x1="188.00" y1="578.60" x2="192.50" y2="578.60" stroke="#BDBDBD" stroke-width="1.0"/>
<text x="185.00" y="583.60" font-size="13.85" fill="#4A4A4A" text-anchor="end" stroke="#4A4A4A" stroke-width="0.12">Eosinophils</text>
<line x1="188.00" y1="607.74" x2="192.50" y2="607.74" stroke="#BDBDBD" stroke-width="1.0"/>
<text x="185.00" y="612.74" font-size="13.85" fill="#4A4A4A" text-anchor="end" stroke="#4A4A4A" stroke-width="0.12">Mast cells activated</text>
<line x1="188.00" y1="636.88" x2="192.50" y2="636.88" stroke="#BDBDBD" stroke-width="1.0"/>
<text x="185.00" y="641.88" font-size="13.85" fill="#4A4A4A" text-anchor="end" stroke="#4A4A4A" stroke-width="0.12">Mast cells resting</text>
<line x1="188.00" y1="666.02" x2="192.50" y2="666.02" stroke="#BDBDBD" stroke-width="1.0"/>
<text x="185.00" y="671.02" font-size="13.85" fill="#4A4A4A" text-anchor="end" stroke="#4A4A4A" stroke-width="0.12">Dendritic cells activated</text>
<line x1="188.00" y1="695.16" x2="192.50" y2="695.16" stroke="#BDBDBD" stroke-width="1.0"/>
<text x="185.00" y="700.16" font-size="13.85" fill="#4A4A4A" text-anchor="end" stroke="#4A4A4A" stroke-width="0.12">Macrophages M2</text>
<line x1="188.00" y1="724.30" x2="192.50" y2="724.30" stroke="#BDBDBD" stroke-width="1.0"/>
<text x="185.00" y="729.30" font-size="13.85" fill="#4A4A4A" text-anchor="end" stroke="#4A4A4A" stroke-width="0.12">Monocytes</text>
<line x1="188.00" y1="753.44" x2="192.50" y2="753.44" stroke="#BDBDBD" stroke-width="1.0"/>
<text x="185.00" y="758.44" font-size="13.85" fill="#4A4A4A" text-anchor="end" stroke="#4A4A4A" stroke-width="0.12">NK cells resting</text>
<line x1="188.00" y1="782.58" x2="192.50" y2="782.58" stroke="#BDBDBD" stroke-width="1.0"/>
<text x="185.00" y="787.58" font-size="13.85" fill="#4A4A4A" text-anchor="end" stroke="#4A4A4A" stroke-width="0.12">T cells CD4 memory resting</text>
<line x1="188.00" y1="811.72" x2="192.50" y2="811.72" stroke="#BDBDBD" stroke-width="1.0"/>
<text x="185.00" y="816.72" font-size="13.85" fill="#4A4A4A" text-anchor="end" stroke="#4A4A4A" stroke-width="0.12">T cells CD8</text>
<line x1="188.00" y1="840.86" x2="192.50" y2="840.86" stroke="#BDBDBD" stroke-width="1.0"/>
<text x="185.00" y="845.86" font-size="13.85" fill="#4A4A4A" text-anchor="end" stroke="#4A4A4A" stroke-width="0.12">Plasma cells</text>
<line x1="188.00" y1="870.00" x2="192.50" y2="870.00" stroke="#BDBDBD" stroke-width="1.0"/>
<text x="185.00" y="875.00" font-size="13.85" fill="#4A4A4A" text-anchor="end" stroke="#4A4A4A" stroke-width="0.12">B cells naive</text>
<line x1="331.50" y1="887.20" x2="331.50" y2="891.40" stroke="#BDBDBD" stroke-width="1.0"/>
<text x="331.50" y="904.90" font-size="13.9" fill="#4A4A4A" text-anchor="middle" stroke="#4A4A4A" stroke-width="0.12">ATP6V1G2</text>
<line x1="562.90" y1="887.20" x2="562.90" y2="891.40" stroke="#BDBDBD" stroke-width="1.0"/>
<text x="562.90" y="904.90" font-size="13.9" fill="#4A4A4A" text-anchor="middle" stroke="#4A4A4A" stroke-width="0.12">DOCK1</text>
<line x1="794.30" y1="887.20" x2="794.30" y2="891.40" stroke="#BDBDBD" stroke-width="1.0"/>
<text x="794.30" y="904.90" font-size="13.9" fill="#4A4A4A" text-anchor="middle" stroke="#4A4A4A" stroke-width="0.12">SLC39A14</text>
<line x1="1025.70" y1="887.20" x2="1025.70" y2="891.40" stroke="#BDBDBD" stroke-width="1.0"/>
<text x="1025.70" y="904.90" font-size="13.9" fill="#4A4A4A" text-anchor="middle" stroke="#4A4A4A" stroke-width="0.12">SORT1</text>
<rect x="326.25" y="573.35" width="10.50" height="10.50" fill="#FEEAE3" stroke="none" stroke-width="1.0"/>
<rect x="324.10" y="600.34" width="14.80" height="14.80" fill="#FDD3C6" stroke="none" stroke-width="1.0"/>
<circle cx="331.50" cy="636.88" r="3.85" fill="#FFF0EB" stroke="none" stroke-width="0"/>
<rect x="327.50" y="662.02" width="8.00" height="8.00" fill="#FFF0EB" stroke="none" stroke-width="1.0"/>
<circle cx="331.50" cy="695.16" r="5.50" fill="#FEEBE4" stroke="none" stroke-width="0"/>
<rect x="324.00" y="716.80" width="15.00" height="15.00" fill="#FCC9BA" stroke="none" stroke-width="1.0"/>
<rect x="326.65" y="748.59" width="9.70" height="9.70" fill="#FEEFE9" stroke="none" stroke-width="1.0"/>
<rect x="327.25" y="778.33" width="8.50" height="8.50" fill="#FEF0EB" stroke="none" stroke-width="1.0"/>
<circle cx="331.50" cy="811.72" r="5.45" fill="#FEE8E0" stroke="none" stroke-width="0"/>
<rect x="328.10" y="837.46" width="6.80" height="6.80" fill="#FFF3EF" stroke="none" stroke-width="1.0"/>
<circle cx="331.50" cy="870.00" r="6.45" fill="#FDDDD3" stroke="none" stroke-width="0"/>
<circle cx="562.90" cy="578.60" r="5.25" fill="#FEEAE3" stroke="none" stroke-width="0"/>
<rect x="557.30" y="602.14" width="11.20" height="11.20" fill="#FEE6DE" stroke="none" stroke-width="1.0"/>
<rect x="556.90" y="630.88" width="12.00" height="12.00" fill="#FEE3DA" stroke="none" stroke-width="1.0"/>
<rect x="558.00" y="661.12" width="9.80" height="9.80" fill="#FEEDE7" stroke="none" stroke-width="1.0"/>
<rect x="558.00" y="690.26" width="9.80" height="9.80" fill="#FEF0EA" stroke="none" stroke-width="1.0"/>
<circle cx="562.90" cy="724.30" r="5.25" fill="#FEE9E2" stroke="none" stroke-width="0"/>
<circle cx="562.90" cy="753.44" r="2.50" fill="#FFF2EE" stroke="none" stroke-width="0"/>
<circle cx="562.90" cy="782.58" r="4.70" fill="#FEEDE7" stroke="none" stroke-width="0"/>
<rect x="555.30" y="804.12" width="15.20" height="15.20" fill="#FDCBBD" stroke="none" stroke-width="1.0"/>
<circle cx="562.90" cy="840.86" r="5.60" fill="#FEE9E1" stroke="none" stroke-width="0"/>
<circle cx="562.90" cy="870.00" r="4.70" fill="#FEEEE8" stroke="none" stroke-width="0"/>
<rect x="789.75" y="574.05" width="9.10" height="9.10" fill="#FFEFEA" stroke="none" stroke-width="1.0"/>
<rect x="785.05" y="598.49" width="18.50" height="18.50" fill="#F39A85" stroke="none" stroke-width="1.0"/>
<circle cx="794.30" cy="636.88" r="3.30" fill="#FFF2EE" stroke="none" stroke-width="0"/>
<rect x="787.80" y="659.52" width="13.00" height="13.00" fill="#FDDDD3" stroke="none" stroke-width="1.0"/>
<circle cx="794.30" cy="695.16" r="4.90" fill="#FEEEE8" stroke="none" stroke-width="0"/>
<rect x="789.40" y="719.40" width="9.80" height="9.80" fill="#FEEDE7" stroke="none" stroke-width="1.0"/>
<rect x="790.95" y="750.09" width="6.70" height="6.70" fill="#FFF2EE" stroke="none" stroke-width="1.0"/>
<rect x="788.95" y="777.23" width="10.70" height="10.70" fill="#FEE9E1" stroke="none" stroke-width="1.0"/>
<rect x="789.60" y="807.02" width="9.40" height="9.40" fill="#FEEEE8" stroke="none" stroke-width="1.0"/>
<rect x="789.60" y="836.16" width="9.40" height="9.40" fill="#FEEEE8" stroke="none" stroke-width="1.0"/>
<circle cx="794.30" cy="870.00" r="6.15" fill="#FEE3DA" stroke="none" stroke-width="0"/>
<rect x="1019.00" y="571.90" width="13.40" height="13.40" fill="#FEDDD3" stroke="none" stroke-width="1.0"/>
<rect x="1017.15" y="599.19" width="17.10" height="17.10" fill="#FCB4A1" stroke="none" stroke-width="1.0"/>
<rect x="1015.95" y="627.13" width="19.50" height="19.50" fill="#EE7B65" stroke="none" stroke-width="1.0"/>
<rect x="1022.00" y="662.32" width="7.40" height="7.40" fill="#FFF1EC" stroke="none" stroke-width="1.0"/>
<circle cx="1025.70" cy="695.16" r="6.80" fill="#FEE1D7" stroke="none" stroke-width="0"/>
<circle cx="1025.70" cy="724.30" r="10.75" fill="#C8001E" stroke="none" stroke-width="0"/>
<rect x="1019.90" y="747.64" width="11.60" height="11.60" fill="#FEE6DE" stroke="none" stroke-width="1.0"/>
<rect x="1018.10" y="774.98" width="15.20" height="15.20" fill="#FCC3B3" stroke="none" stroke-width="1.0"/>
<rect x="1016.50" y="802.52" width="18.40" height="18.40" fill="#F08C76" stroke="none" stroke-width="1.0"/>
<rect x="1019.55" y="834.71" width="12.30" height="12.30" fill="#FEE3DA" stroke="none" stroke-width="1.0"/>
<rect x="1020.85" y="865.15" width="9.70" height="9.70" fill="#FFEFEA" stroke="none" stroke-width="1.0"/>
<text x="331.50" y="584.05" font-size="16" fill="#000" text-anchor="middle" stroke="#000" stroke-width="0.35">*</text>
<text x="331.50" y="613.19" font-size="16" fill="#000" text-anchor="middle" stroke="#000" stroke-width="0.35">*</text>
<text x="331.50" y="642.33" font-size="16" fill="#000" text-anchor="middle" stroke="#000" stroke-width="0.35">*</text>
<text x="331.50" y="671.47" font-size="16" fill="#000" text-anchor="middle" stroke="#000" stroke-width="0.35">*</text>
<text x="331.50" y="700.61" font-size="16" fill="#000" text-anchor="middle" stroke="#000" stroke-width="0.35">*</text>
<text x="331.50" y="729.75" font-size="16" fill="#000" text-anchor="middle" stroke="#000" stroke-width="0.35">*</text>
<text x="331.50" y="758.89" font-size="16" fill="#000" text-anchor="middle" stroke="#000" stroke-width="0.35">*</text>
<text x="331.50" y="788.03" font-size="16" fill="#000" text-anchor="middle" stroke="#000" stroke-width="0.35">*</text>
<text x="331.50" y="817.17" font-size="16" fill="#000" text-anchor="middle" stroke="#000" stroke-width="0.35">*</text>
<text x="331.50" y="846.31" font-size="16" fill="#000" text-anchor="middle" stroke="#000" stroke-width="0.35">*</text>
<text x="331.50" y="875.45" font-size="16" fill="#000" text-anchor="middle" stroke="#000" stroke-width="0.35">*</text>
<text x="562.90" y="584.05" font-size="16" fill="#000" text-anchor="middle" stroke="#000" stroke-width="0.35">*</text>
<text x="562.90" y="613.19" font-size="16" fill="#000" text-anchor="middle" stroke="#000" stroke-width="0.35">*</text>
<text x="562.90" y="642.33" font-size="16" fill="#000" text-anchor="middle" stroke="#000" stroke-width="0.35">*</text>
<text x="562.90" y="671.47" font-size="16" fill="#000" text-anchor="middle" stroke="#000" stroke-width="0.35">*</text>
<text x="562.90" y="700.61" font-size="16" fill="#000" text-anchor="middle" stroke="#000" stroke-width="0.35">*</text>
<text x="562.90" y="729.75" font-size="16" fill="#000" text-anchor="middle" stroke="#000" stroke-width="0.35">*</text>
<text x="562.90" y="758.89" font-size="16" fill="#000" text-anchor="middle" stroke="#000" stroke-width="0.35">*</text>
<text x="562.90" y="788.03" font-size="16" fill="#000" text-anchor="middle" stroke="#000" stroke-width="0.35">*</text>
<text x="562.90" y="817.17" font-size="16" fill="#000" text-anchor="middle" stroke="#000" stroke-width="0.35">*</text>
<text x="562.90" y="846.31" font-size="16" fill="#000" text-anchor="middle" stroke="#000" stroke-width="0.35">*</text>
<text x="562.90" y="875.45" font-size="16" fill="#000" text-anchor="middle" stroke="#000" stroke-width="0.35">*</text>
<text x="794.30" y="584.05" font-size="16" fill="#000" text-anchor="middle" stroke="#000" stroke-width="0.35">*</text>
<text x="794.30" y="613.19" font-size="16" fill="#000" text-anchor="middle" stroke="#000" stroke-width="0.35">***</text>
<text x="794.30" y="642.33" font-size="16" fill="#000" text-anchor="middle" stroke="#000" stroke-width="0.35">*</text>
<text x="794.30" y="671.47" font-size="16" fill="#000" text-anchor="middle" stroke="#000" stroke-width="0.35">*</text>
<text x="794.30" y="700.61" font-size="16" fill="#000" text-anchor="middle" stroke="#000" stroke-width="0.35">*</text>
<text x="794.30" y="729.75" font-size="16" fill="#000" text-anchor="middle" stroke="#000" stroke-width="0.35">*</text>
<text x="794.30" y="758.89" font-size="16" fill="#000" text-anchor="middle" stroke="#000" stroke-width="0.35">*</text>
<text x="794.30" y="788.03" font-size="16" fill="#000" text-anchor="middle" stroke="#000" stroke-width="0.35">*</text>
<text x="794.30" y="817.17" font-size="16" fill="#000" text-anchor="middle" stroke="#000" stroke-width="0.35">*</text>
<text x="794.30" y="846.31" font-size="16" fill="#000" text-anchor="middle" stroke="#000" stroke-width="0.35">*</text>
<text x="794.30" y="875.45" font-size="16" fill="#000" text-anchor="middle" stroke="#000" stroke-width="0.35">*</text>
<text x="1025.70" y="584.05" font-size="16" fill="#000" text-anchor="middle" stroke="#000" stroke-width="0.35">*</text>
<text x="1025.70" y="613.19" font-size="16" fill="#000" text-anchor="middle" stroke="#000" stroke-width="0.35">*</text>
<text x="1025.70" y="642.33" font-size="16" fill="#000" text-anchor="middle" stroke="#000" stroke-width="0.35">***</text>
<text x="1025.70" y="671.47" font-size="16" fill="#000" text-anchor="middle" stroke="#000" stroke-width="0.35">*</text>
<text x="1025.70" y="700.61" font-size="16" fill="#000" text-anchor="middle" stroke="#000" stroke-width="0.35">*</text>
<text x="1025.70" y="729.75" font-size="16" fill="#000" text-anchor="middle" stroke="#000" stroke-width="0.35">***</text>
<text x="1025.70" y="758.89" font-size="16" fill="#000" text-anchor="middle" stroke="#000" stroke-width="0.35">*</text>
<text x="1025.70" y="788.03" font-size="16" fill="#000" text-anchor="middle" stroke="#000" stroke-width="0.35">*</text>
<text x="1025.70" y="817.17" font-size="16" fill="#000" text-anchor="middle" stroke="#000" stroke-width="0.35">***</text>
<text x="1025.70" y="846.31" font-size="16" fill="#000" text-anchor="middle" stroke="#000" stroke-width="0.35">*</text>
<text x="1025.70" y="875.45" font-size="16" fill="#000" text-anchor="middle" stroke="#000" stroke-width="0.35">*</text>
<rect x="192.50" y="964.00" width="972.30" height="108.30" fill="#fff" stroke="none" stroke-width="1.0"/>
<line x1="192.50" y1="979.20" x2="1164.80" y2="979.20" stroke="#EBEBEB" stroke-width="1.1"/>
<line x1="192.50" y1="1005.13" x2="1164.80" y2="1005.13" stroke="#EBEBEB" stroke-width="1.1"/>
<line x1="192.50" y1="1031.06" x2="1164.80" y2="1031.06" stroke="#EBEBEB" stroke-width="1.1"/>
<line x1="192.50" y1="1056.99" x2="1164.80" y2="1056.99" stroke="#EBEBEB" stroke-width="1.1"/>
<line x1="331.50" y1="964.00" x2="331.50" y2="1072.30" stroke="#EBEBEB" stroke-width="1.1"/>
<line x1="562.90" y1="964.00" x2="562.90" y2="1072.30" stroke="#EBEBEB" stroke-width="1.1"/>
<line x1="794.30" y1="964.00" x2="794.30" y2="1072.30" stroke="#EBEBEB" stroke-width="1.1"/>
<line x1="1025.70" y1="964.00" x2="1025.70" y2="1072.30" stroke="#EBEBEB" stroke-width="1.1"/>
<rect x="192.50" y="964.00" width="972.30" height="108.30" fill="none" stroke="#D4D4D4" stroke-width="1.0"/>
<line x1="188.00" y1="979.20" x2="192.50" y2="979.20" stroke="#BDBDBD" stroke-width="1.0"/>
<text x="185.00" y="984.20" font-size="13.85" fill="#4A4A4A" text-anchor="end" stroke="#4A4A4A" stroke-width="0.12">TumorPurity</text>
<line x1="188.00" y1="1005.13" x2="192.50" y2="1005.13" stroke="#BDBDBD" stroke-width="1.0"/>
<text x="185.00" y="1010.13" font-size="13.85" fill="#4A4A4A" text-anchor="end" stroke="#4A4A4A" stroke-width="0.12">ESTIMATEScore</text>
<line x1="188.00" y1="1031.06" x2="192.50" y2="1031.06" stroke="#BDBDBD" stroke-width="1.0"/>
<text x="185.00" y="1036.06" font-size="13.85" fill="#4A4A4A" text-anchor="end" stroke="#4A4A4A" stroke-width="0.12">ImmuneScore</text>
<line x1="188.00" y1="1056.99" x2="192.50" y2="1056.99" stroke="#BDBDBD" stroke-width="1.0"/>
<text x="185.00" y="1061.99" font-size="13.85" fill="#4A4A4A" text-anchor="end" stroke="#4A4A4A" stroke-width="0.12">StromalScore</text>
<line x1="331.50" y1="1072.30" x2="331.50" y2="1076.50" stroke="#BDBDBD" stroke-width="1.0"/>
<text x="331.50" y="1090.00" font-size="13.9" fill="#4A4A4A" text-anchor="middle" stroke="#4A4A4A" stroke-width="0.12">ATP6V1G2</text>
<line x1="562.90" y1="1072.30" x2="562.90" y2="1076.50" stroke="#BDBDBD" stroke-width="1.0"/>
<text x="562.90" y="1090.00" font-size="13.9" fill="#4A4A4A" text-anchor="middle" stroke="#4A4A4A" stroke-width="0.12">DOCK1</text>
<line x1="794.30" y1="1072.30" x2="794.30" y2="1076.50" stroke="#BDBDBD" stroke-width="1.0"/>
<text x="794.30" y="1090.00" font-size="13.9" fill="#4A4A4A" text-anchor="middle" stroke="#4A4A4A" stroke-width="0.12">SLC39A14</text>
<line x1="1025.70" y1="1072.30" x2="1025.70" y2="1076.50" stroke="#BDBDBD" stroke-width="1.0"/>
<text x="1025.70" y="1090.00" font-size="13.9" fill="#4A4A4A" text-anchor="middle" stroke="#4A4A4A" stroke-width="0.12">SORT1</text>
<circle cx="331.50" cy="979.20" r="7.45" fill="#FDCDC0" stroke="none" stroke-width="0"/>
<rect x="324.05" y="997.68" width="14.90" height="14.90" fill="#FDCDC0" stroke="none" stroke-width="1.0"/>
<rect x="324.05" y="1023.61" width="14.90" height="14.90" fill="#FDCDC0" stroke="none" stroke-width="1.0"/>
<rect x="324.05" y="1049.54" width="14.90" height="14.90" fill="#FDD0C3" stroke="none" stroke-width="1.0"/>
<rect x="558.20" y="974.50" width="9.40" height="9.40" fill="#FFF0EB" stroke="none" stroke-width="1.0"/>
<circle cx="562.90" cy="1005.13" r="4.70" fill="#FFF0EB" stroke="none" stroke-width="0"/>
<circle cx="562.90" cy="1031.06" r="4.70" fill="#FFF0EB" stroke="none" stroke-width="0"/>
<circle cx="562.90" cy="1056.99" r="2.50" fill="#FFF3F0" stroke="none" stroke-width="0"/>
<circle cx="794.30" cy="979.20" r="6.25" fill="#FEDDD3" stroke="none" stroke-width="0"/>
<rect x="787.85" y="998.68" width="12.90" height="12.90" fill="#FEDDD3" stroke="none" stroke-width="1.0"/>
<rect x="787.45" y="1024.21" width="13.70" height="13.70" fill="#FDD8CC" stroke="none" stroke-width="1.0"/>
<rect x="788.85" y="1051.54" width="10.90" height="10.90" fill="#FEE8E0" stroke="none" stroke-width="1.0"/>
<rect x="1015.65" y="969.15" width="20.10" height="20.10" fill="#E15A46" stroke="none" stroke-width="1.0"/>
<circle cx="1025.70" cy="1005.13" r="10.30" fill="#E15A46" stroke="none" stroke-width="0"/>
<circle cx="1025.70" cy="1031.06" r="10.60" fill="#C8001E" stroke="none" stroke-width="0"/>
<circle cx="1025.70" cy="1056.99" r="8.60" fill="#F9B09E" stroke="none" stroke-width="0"/>
<text x="331.50" y="984.65" font-size="16" fill="#000" text-anchor="middle" stroke="#000" stroke-width="0.35">*</text>
<text x="331.50" y="1010.58" font-size="16" fill="#000" text-anchor="middle" stroke="#000" stroke-width="0.35">*</text>
<text x="331.50" y="1036.51" font-size="16" fill="#000" text-anchor="middle" stroke="#000" stroke-width="0.35">*</text>
<text x="331.50" y="1062.44" font-size="16" fill="#000" text-anchor="middle" stroke="#000" stroke-width="0.35">*</text>
<text x="562.90" y="984.65" font-size="16" fill="#000" text-anchor="middle" stroke="#000" stroke-width="0.35">*</text>
<text x="562.90" y="1010.58" font-size="16" fill="#000" text-anchor="middle" stroke="#000" stroke-width="0.35">*</text>
<text x="562.90" y="1036.51" font-size="16" fill="#000" text-anchor="middle" stroke="#000" stroke-width="0.35">*</text>
<text x="562.90" y="1062.44" font-size="16" fill="#000" text-anchor="middle" stroke="#000" stroke-width="0.35">*</text>
<text x="794.30" y="984.65" font-size="16" fill="#000" text-anchor="middle" stroke="#000" stroke-width="0.35">*</text>
<text x="794.30" y="1010.58" font-size="16" fill="#000" text-anchor="middle" stroke="#000" stroke-width="0.35">*</text>
<text x="794.30" y="1036.51" font-size="16" fill="#000" text-anchor="middle" stroke="#000" stroke-width="0.35">*</text>
<text x="794.30" y="1062.44" font-size="16" fill="#000" text-anchor="middle" stroke="#000" stroke-width="0.35">*</text>
<text x="1025.70" y="984.65" font-size="16" fill="#000" text-anchor="middle" stroke="#000" stroke-width="0.35">***</text>
<text x="1025.70" y="1010.58" font-size="16" fill="#000" text-anchor="middle" stroke="#000" stroke-width="0.35">***</text>
<text x="1025.70" y="1036.51" font-size="16" fill="#000" text-anchor="middle" stroke="#000" stroke-width="0.35">***</text>
<text x="1025.70" y="1062.44" font-size="16" fill="#000" text-anchor="middle" stroke="#000" stroke-width="0.35">*</text>
<text x="207.40" y="1157.60" font-size="16.7" fill="#000" text-anchor="start">Correlation</text>
<rect x="308.00" y="1148.30" width="7.00" height="7.00" fill="#000" stroke="none" stroke-width="1.0"/>
<text x="333.20" y="1156.60" font-size="13.55" fill="#000" text-anchor="start" stroke="#000" stroke-width="0.2">Negative</text>
<circle cx="409.00" cy="1151.80" r="3.25" fill="#000" stroke="none" stroke-width="0"/>
<text x="430.90" y="1156.60" font-size="13.55" fill="#000" text-anchor="start" stroke="#000" stroke-width="0.2">Postive</text>
<text x="509.00" y="1157.60" font-size="16.7" fill="#000" text-anchor="start">Correlation</text>
<circle cx="613.60" cy="1151.80" r="6.10" fill="#000" stroke="none" stroke-width="0"/>
<text x="634.90" y="1156.60" font-size="13.5" fill="#000" text-anchor="start" stroke="#000" stroke-width="0.2">0.1</text>
<circle cx="676.00" cy="1151.80" r="8.10" fill="#000" stroke="none" stroke-width="0"/>
<text x="697.30" y="1156.60" font-size="13.5" fill="#000" text-anchor="start" stroke="#000" stroke-width="0.2">0.2</text>
<circle cx="738.50" cy="1151.80" r="9.25" fill="#000" stroke="none" stroke-width="0"/>
<text x="760.00" y="1156.60" font-size="13.5" fill="#000" text-anchor="start" stroke="#000" stroke-width="0.2">0.3</text>
<circle cx="801.00" cy="1151.80" r="10.50" fill="#000" stroke="none" stroke-width="0"/>
<text x="823.00" y="1156.60" font-size="13.5" fill="#000" text-anchor="start" stroke="#000" stroke-width="0.2">0.4</text>
<text x="877.00" y="1157.60" font-size="16.7" fill="#000" text-anchor="start">−Log10 p−value</text>
<circle cx="1018.60" cy="1151.80" r="3.65" fill="#FBBBA8" stroke="none" stroke-width="0"/>
<text x="1040.40" y="1156.60" font-size="13.5" fill="#000" text-anchor="start" stroke="#000" stroke-width="0.2">3</text>
<circle cx="1069.60" cy="1151.80" r="3.65" fill="#EF8A73" stroke="none" stroke-width="0"/>
<text x="1091.80" y="1156.60" font-size="13.5" fill="#000" text-anchor="start" stroke="#000" stroke-width="0.2">6</text>
<circle cx="1120.70" cy="1151.80" r="3.65" fill="#DD5443" stroke="none" stroke-width="0"/>
<text x="1142.90" y="1156.60" font-size="13.5" fill="#000" text-anchor="start" stroke="#000" stroke-width="0.2">9</text>
</svg>
</body></html>
